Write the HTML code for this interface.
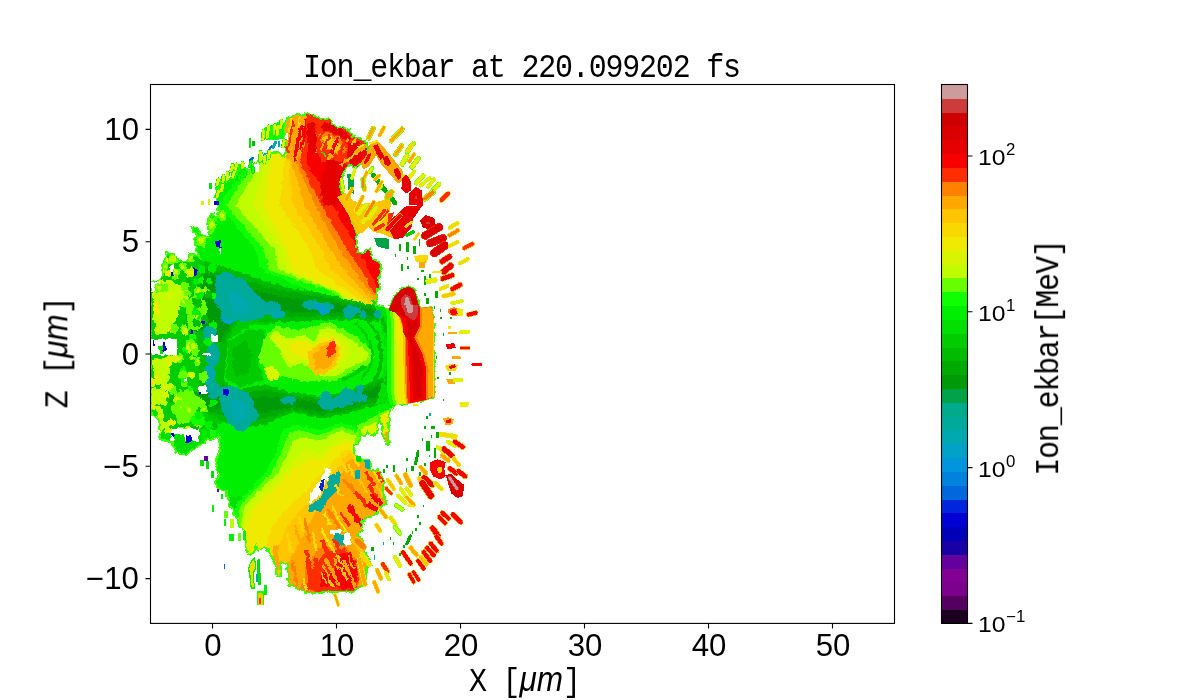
<!DOCTYPE html>
<html><head><meta charset="utf-8"><title>Ion_ekbar</title><style>
html,body{margin:0;padding:0;background:#fff;}
body{width:1200px;height:700px;position:relative;overflow:hidden;font-family:"Liberation Sans",sans-serif;color:#000;}
.t{position:absolute;white-space:nowrap;line-height:1;will-change:transform;}
.mono{font-family:"Liberation Mono",monospace;font-size:30px;letter-spacing:-1.2px;}
.sans{font-family:"Liberation Sans",sans-serif;letter-spacing:0;}
.xt{font-size:30.6px;transform:translateX(-50%) scaleX(1.02);transform-origin:50% 50%;}
.yt{font-size:30.6px;right:1061px;transform:translateY(-50%) scaleX(1.02);transform-origin:100% 50%;}
.ct{font-size:22.9px;left:977.5px;transform:translateY(-50%) scaleX(1.08);transform-origin:0 50%;}
.ct sup{font-size:15.6px;vertical-align:baseline;position:relative;top:-9.6px;margin-left:0.5px;line-height:0;}
#title{transform:scaleY(1.11);transform-origin:0 78%;}
#xlabel{transform:scaleY(1.11);transform-origin:0 78%;}
#ylabel,#clabel{transform:translate(-50%,-50%) rotate(-90deg) scaleY(1.11);transform-origin:50% 50%;}
i.sans{font-size:31.5px;}
</style></head>
<body>
<svg width="1200" height="700" viewBox="0 0 1200 700" style="position:absolute;left:0;top:0">
<g id="plot" shape-rendering="crispEdges">
<defs><clipPath id="bodyclip"><path clip-rule="evenodd" d="M150.0,282.1 L161.4,279.3 L162.9,265.0 L167.1,252.1 L172.9,253.6 L178.6,260.7 L187.1,260.7 L188.6,253.6 L192.9,253.6 L200.0,257.9 L195.7,247.9 L194.3,239.3 L198.6,235.0 L192.9,232.1 L191.4,226.4 L195.7,227.9 L205.7,237.9 L210.0,237.9 L207.1,223.6 L208.6,216.4 L212.9,213.6 L217.1,219.3 L218.6,210.7 L217.1,205.0 L215.0,196.4 L218.6,189.3 L223.6,182.9 L230.0,179.3 L235.7,175.7 L239.3,170.0 L245.4,168.1 L248.6,172.1 L252.1,165.7 L257.1,161.4 L262.6,156.4 L266.0,158.1 L269.7,152.9 L278.6,153.3 L285.0,157.1 L285.4,147.9 L284.3,133.6 L285.0,123.6 L287.1,118.1 L298.6,114.3 L310.0,114.3 L320.0,117.9 L320.0,118.6 L328.6,119.3 L335.7,126.4 L347.1,128.6 L352.9,135.7 L361.4,138.6 L367.1,143.6 L368.6,152.1 L362.9,162.1 L355.7,167.9 L348.6,165.0 L344.3,172.1 L340.0,185.0 L343.6,205.0 L346.4,205.0 L352.1,222.1 L357.4,233.6 L356.9,245.0 L358.3,252.1 L362.9,253.6 L370.0,247.9 L372.9,259.3 L380.0,262.1 L381.4,269.3 L378.6,279.3 L380.0,287.9 L377.1,290.7 L376.4,305.0 L380.0,305.0 L388.6,310.7 L390.0,306.4 L394.3,296.4 L401.4,289.3 L408.6,286.4 L414.3,289.3 L417.1,297.9 L418.6,305.0 L420.0,307.9 L431.4,307.1 L433.6,319.3 L434.3,396.4 L425.7,400.0 L408.6,403.6 L397.1,404.3 L397.1,405.0 L389.3,409.3 L388.6,443.6 L385.7,444.3 L382.9,433.6 L379.3,412.1 L377.1,432.9 L372.1,435.7 L367.9,431.4 L364.3,437.1 L360.0,431.4 L358.6,443.6 L354.3,445.0 L353.6,453.6 L355.7,456.4 L361.4,456.4 L361.4,462.1 L364.3,460.0 L370.0,460.0 L370.0,469.3 L380.0,470.7 L384.3,479.3 L382.9,490.7 L387.1,505.0 L382.9,505.0 L377.1,513.6 L365.7,517.9 L361.4,523.6 L362.9,530.7 L357.1,535.0 L364.3,540.7 L365.7,553.6 L371.4,565.0 L367.1,566.4 L365.7,585.0 L355.7,589.3 L354.3,592.1 L320.0,592.1 L311.4,593.6 L301.4,590.7 L292.9,586.4 L288.6,585.0 L287.1,565.0 L281.4,562.1 L280.7,576.4 L277.1,576.4 L275.7,566.4 L272.9,559.3 L268.6,550.7 L264.3,546.4 L258.6,552.1 L255.7,545.0 L254.3,552.1 L248.6,555.0 L245.7,547.9 L244.3,530.7 L238.6,525.0 L235.7,516.4 L230.0,505.0 L225.7,490.7 L218.6,489.3 L215.7,482.1 L218.6,473.6 L215.7,465.0 L217.1,459.3 L220.0,447.9 L218.6,436.4 L212.9,439.3 L207.1,439.3 L202.9,443.6 L197.1,446.4 L185.7,456.4 L175.7,452.1 L171.4,442.1 L160.0,439.3 L158.6,419.3 L151.4,413.6 L150.0,405.0Z"/></clipPath><clipPath id="axclip"><rect x="151" y="85" width="743" height="538"/></clipPath><filter id="jag" x="140" y="95" width="360" height="530" filterUnits="userSpaceOnUse" color-interpolation-filters="sRGB"><feTurbulence type="fractalNoise" baseFrequency="0.22" numOctaves="2" seed="7" result="n"/><feDisplacementMap in="SourceGraphic" in2="n" scale="5" xChannelSelector="R" yChannelSelector="G"/></filter></defs>
<g clip-path="url(#axclip)"><g filter="url(#jag)"><g clip-path="url(#bodyclip)">
<polygon fill="#00df00" points="150.0,100.0 500.0,100.0 500.0,620.0 150.0,620.0"/>
<polygon fill="#00ef00" points="150.0,100.0 521.4,100.0 521.4,300.0 150.0,300.0"/>
<polygon fill="#0fff00" points="238.6,85.7 235.7,125.1 250.0,162.0 218.6,204.9 255.7,250.0 261.4,270.0 310.0,290.9 350.0,317.1 521.4,317.1 521.4,85.7"/>
<polygon fill="#67ff00" points="247.1,85.7 244.3,125.1 255.7,162.0 226.0,204.9 264.3,250.0 268.6,270.0 331.1,290.9 367.1,317.1 521.4,317.1 521.4,85.7"/>
<polygon fill="#c0fd00" points="255.7,85.7 252.9,125.1 261.4,162.0 235.7,204.9 274.3,250.0 278.6,270.0 334.3,290.9 371.4,317.1 521.4,317.1 521.4,85.7"/>
<polygon fill="#d8f500" points="264.3,85.7 261.4,125.1 265.7,162.0 252.9,204.9 281.4,250.0 287.1,270.0 336.3,290.9 374.3,317.1 521.4,317.1 521.4,85.7"/>
<polygon fill="#f0ea00" points="272.9,85.7 270.0,125.1 271.1,162.0 264.3,204.9 287.1,250.0 292.9,270.0 338.6,290.9 377.1,317.1 521.4,317.1 521.4,85.7"/>
<polygon fill="#f9d700" points="281.4,85.7 278.6,125.1 284.3,162.0 280.0,204.9 310.0,250.0 317.1,270.0 348.0,290.9 384.3,317.1 521.4,317.1 521.4,85.7"/>
<polygon fill="#ffc500" points="287.1,85.7 284.3,125.1 288.6,162.0 292.9,204.9 321.4,250.0 331.4,270.0 355.7,290.9 390.0,317.1 521.4,317.1 521.4,85.7"/>
<polygon fill="#ffa900" points="292.9,85.7 290.0,125.1 291.4,162.0 304.3,204.9 330.6,250.0 344.3,270.0 362.9,290.9 395.7,317.1 521.4,317.1 521.4,85.7"/>
<polygon fill="#ff8100" points="301.4,85.7 298.6,125.1 295.7,162.0 314.9,204.9 340.0,250.0 354.3,270.0 368.6,290.9 400.0,317.1 521.4,317.1 521.4,85.7"/>
<polygon fill="#ff2d00" points="308.6,85.7 305.7,125.1 300.0,162.0 321.4,204.9 347.1,250.0 361.4,270.0 372.9,290.9 404.3,317.1 521.4,317.1 521.4,85.7"/>
<polygon fill="#f90000" points="314.3,85.7 311.4,125.1 305.7,162.0 332.9,204.9 358.0,250.0 368.6,270.0 378.6,290.9 407.1,317.1 521.4,317.1 521.4,85.7"/>
<polygon fill="#00df00" points="150.0,395.0 500.0,395.0 500.0,620.0 150.0,620.0"/>
<polygon fill="#00ef00" points="215.0,420.0 400.0,400.0 400.0,470.0 215.0,500.0"/>
<polygon fill="#0fff00" points="285.0,615.0 270.0,574.0 241.0,560.0 233.0,526.0 236.0,505.0 243.0,497.0 266.0,472.0 275.0,455.0 279.0,440.0 282.0,430.0 295.0,425.0 320.0,430.0 341.0,423.0 356.0,428.0 430.0,428.0 430.0,640.0 285.0,640.0"/>
<polygon fill="#67ff00" points="287.0,615.0 272.0,574.0 243.0,560.0 236.0,526.0 240.0,505.0 248.0,497.0 272.0,472.0 281.0,455.0 285.0,442.0 288.0,434.0 298.0,430.0 320.0,435.0 341.0,427.0 356.0,432.0 430.0,432.0 430.0,640.0 287.0,640.0"/>
<polygon fill="#c0fd00" points="289.0,615.0 274.0,574.0 244.0,560.0 240.0,526.0 245.0,505.0 253.0,497.0 278.0,472.0 287.0,456.0 291.0,446.0 296.0,438.0 320.0,440.0 341.0,431.0 356.0,436.0 430.0,436.0 430.0,640.0 289.0,640.0"/>
<polygon fill="#d8f500" points="290.0,615.0 275.0,574.0 246.0,560.0 243.0,526.0 251.0,505.0 260.0,497.0 284.0,472.0 296.0,458.0 304.0,450.0 320.0,452.0 335.0,442.0 345.0,438.0 356.0,442.0 430.0,442.0 430.0,640.0 290.0,640.0"/>
<polygon fill="#f0ea00" points="291.0,615.0 276.0,574.0 248.0,560.0 246.0,526.0 256.0,505.0 266.0,497.0 292.0,471.0 310.0,458.0 322.0,460.0 336.0,446.0 346.0,442.0 356.0,447.0 430.0,447.0 430.0,640.0 291.0,640.0"/>
<polygon fill="#f9d700" points="292.0,615.0 277.0,574.0 262.0,560.0 272.0,526.0 290.0,505.0 300.0,497.0 318.0,476.0 330.0,466.0 338.0,456.0 347.0,449.0 356.0,452.0 430.0,452.0 430.0,640.0 292.0,640.0"/>
<polygon fill="#ffc500" points="293.0,615.0 278.0,574.0 272.0,560.0 288.0,526.0 305.0,505.0 316.0,497.0 330.0,478.0 337.0,468.0 342.0,459.0 349.0,453.0 356.0,456.0 430.0,456.0 430.0,640.0 293.0,640.0"/>
<polygon fill="#ffa900" points="294.0,615.0 280.0,574.0 290.0,560.0 308.0,526.0 320.0,505.0 328.0,497.0 338.0,482.0 343.0,472.0 346.0,463.0 352.0,458.0 356.0,461.0 430.0,461.0 430.0,640.0 294.0,640.0"/>
<polygon fill="#ff8100" points="318.0,548.0 345.0,545.0 356.0,560.0 360.0,580.0 356.0,592.0 320.0,596.0 300.0,590.0 305.0,570.0"/>
<polygon fill="#ff2d00" points="325.0,552.0 345.0,548.0 356.0,562.0 359.0,580.0 354.0,591.0 322.0,594.0 306.0,588.0 310.0,572.0"/>
<polygon fill="#f90000" points="338.6,554.0 350.0,552.0 355.7,565.0 357.0,579.0 354.0,588.0 345.7,589.0 331.0,586.0 320.0,588.0 318.0,578.0 324.0,570.0 328.6,576.0 334.0,569.0"/>
<polygon fill="#00cc00" points="150.0,255.0 190.0,255.0 205.0,262.0 240.0,272.0 262.0,280.0 290.0,288.0 320.0,293.0 350.0,300.0 380.0,307.0 392.0,310.0 392.0,401.0 378.6,404.0 350.0,413.0 321.0,418.6 293.0,412.0 264.0,425.0 236.0,428.0 224.0,422.0 205.0,430.0 150.0,430.0"/>
<polygon fill="#00bc00" points="205.0,262.0 240.0,272.0 262.0,280.0 290.0,288.0 320.0,293.0 350.0,300.0 380.0,307.0 392.0,310.0 392.0,325.0 380.0,322.0 350.0,320.0 320.0,320.0 290.0,322.0 262.0,322.0 240.0,318.0 228.0,340.0 224.0,380.0 224.0,380.0 236.0,390.0 264.0,384.0 293.0,393.0 321.0,396.0 350.0,390.0 378.6,378.6 392.0,373.0 392.0,401.0 378.6,404.0 350.0,413.0 321.0,418.6 293.0,412.0 264.0,425.0 236.0,428.0 224.0,422.0 200.0,410.0 185.0,380.0 180.0,340.0 190.0,300.0"/>
<polygon fill="#00aa00" points="205.0,267.3 240.0,278.4 262.0,285.9 290.0,292.8 320.0,296.8 350.0,302.8 380.0,309.1 392.0,312.1 392.0,322.9 380.0,319.9 350.0,317.2 320.0,316.2 290.0,317.2 262.0,316.1 240.0,311.6 224.6,340.0 220.6,380.0 224.0,385.9 236.0,395.3 264.0,389.7 293.0,395.7 321.0,399.2 350.0,393.2 378.6,382.2 392.0,376.9 392.0,397.1 378.6,400.4 350.0,409.8 321.0,415.4 293.0,409.3 264.0,419.3 236.0,422.7 224.0,416.1 202.5,408.7 189.2,380.0 184.2,340.0 194.2,300.0"/>
<polygon fill="#009a08" points="205.0,273.4 240.0,285.8 262.0,292.6 290.0,298.2 320.0,301.1 350.0,306.0 380.0,311.5 392.0,314.5 392.0,320.5 380.0,317.5 350.0,314.0 320.0,311.9 290.0,311.8 262.0,309.4 240.0,304.2 220.8,340.0 216.8,380.0 224.0,392.6 236.0,401.4 264.0,396.3 293.0,398.7 321.0,402.8 350.0,396.9 378.6,386.2 392.0,381.4 392.0,392.6 378.6,396.4 350.0,406.1 321.0,411.8 293.0,406.3 264.0,412.7 236.0,416.6 224.0,409.4 205.4,407.3 194.0,380.0 189.0,340.0 199.0,300.0"/>
<polygon fill="#00ef00" points="228.0,340.0 250.0,326.0 280.0,322.0 320.0,320.0 350.0,320.0 385.0,322.0 392.0,325.0 392.0,373.0 378.0,379.0 350.0,390.0 321.0,396.0 293.0,393.0 264.0,384.0 236.0,390.0 224.0,380.0"/>
<polygon fill="#67ff00" points="262.0,345.0 280.0,334.0 320.0,330.0 345.0,338.0 350.0,365.0 335.0,376.0 310.0,382.0 293.0,380.0 270.0,372.0 258.0,362.0"/>
<polygon fill="#00df00" points="372.0,300.0 392.0,306.0 392.0,401.0 376.0,404.0 383.0,380.0 386.0,350.0 381.0,325.0"/>
<polygon fill="#67ff00" points="262.0,340.0 275.0,326.0 300.0,330.0 330.0,322.0 352.0,334.0 368.0,346.0 375.0,357.0 366.0,366.0 350.0,373.0 336.0,381.0 318.0,381.0 300.0,369.0 290.0,374.0 278.0,366.0 272.0,354.0"/>
<polygon fill="#c0fd00" points="268.6,336.4 275.7,330.0 284.3,337.0 293.0,338.0 304.0,335.0 314.0,342.0 320.0,329.0 328.6,326.4 348.6,338.0 363.0,348.0 370.0,356.4 363.0,362.0 348.6,368.0 334.0,376.4 320.0,376.4 311.4,366.4 300.0,363.6 290.0,368.0 283.0,359.0 278.6,348.0"/>
<polygon fill="#d8f500" points="272.0,340.0 276.0,334.0 284.0,340.0 293.0,341.0 304.0,338.0 314.0,345.0 322.0,334.0 330.0,332.0 345.0,342.0 350.0,352.0 345.0,362.0 334.0,372.0 320.0,373.0 312.0,363.0 300.0,360.0 291.0,364.0 286.0,357.0 281.0,348.0"/>
<polygon fill="#f0ea00" points="290.0,344.0 304.0,341.0 314.0,348.0 322.0,338.0 332.0,338.0 342.0,348.0 340.0,360.0 330.0,368.0 320.0,369.0 313.0,360.0 300.0,357.0 292.0,352.0"/>
<polygon fill="#d8f500" points="264.0,368.0 272.0,366.0 279.0,372.0 278.0,380.0 268.0,381.0"/>
<polygon fill="#ffc500" points="308.0,353.0 320.0,343.0 334.0,339.0 340.0,350.0 337.0,363.0 328.0,372.0 316.0,375.0 309.0,368.0"/>
<polygon fill="#ffa900" points="313.0,356.0 322.0,346.0 334.0,342.0 337.0,352.0 333.0,364.0 324.0,370.0 315.0,369.0"/>
<polygon fill="#ff2d00" points="326.0,352.0 330.0,343.0 336.0,342.0 335.0,352.0 329.0,359.0"/>
<ellipse cx="226.0" cy="278.0" rx="9.0" ry="6.0" fill="#00aa9b"/>
<ellipse cx="238.0" cy="285.0" rx="10.0" ry="7.0" fill="#00aa9b"/>
<ellipse cx="246.0" cy="291.0" rx="7.0" ry="5.0" fill="#00a8af"/>
<ellipse cx="255.0" cy="303.0" rx="10.0" ry="6.0" fill="#00aa9b"/>
<ellipse cx="268.0" cy="308.0" rx="12.0" ry="7.0" fill="#00aa9b"/>
<ellipse cx="278.0" cy="314.0" rx="7.0" ry="5.0" fill="#00a8af"/>
<ellipse cx="228.0" cy="316.0" rx="7.0" ry="9.0" fill="#00a0c7"/>
<ellipse cx="312.0" cy="305.0" rx="9.0" ry="5.0" fill="#00aa9b"/>
<ellipse cx="325.0" cy="307.0" rx="8.0" ry="5.0" fill="#00aa9b"/>
<ellipse cx="318.0" cy="306.0" rx="4.0" ry="3.0" fill="#00a0c7"/>
<ellipse cx="352.0" cy="310.0" rx="8.0" ry="5.0" fill="#00aa9b"/>
<ellipse cx="378.0" cy="313.0" rx="3.0" ry="4.0" fill="#00aa9b"/>
<ellipse cx="210.0" cy="335.0" rx="7.0" ry="10.0" fill="#00aa9b"/>
<ellipse cx="213.0" cy="355.0" rx="7.0" ry="12.0" fill="#00aa9b"/>
<ellipse cx="209.0" cy="375.0" rx="6.0" ry="10.0" fill="#00a8af"/>
<ellipse cx="214.0" cy="390.0" rx="8.0" ry="8.0" fill="#00aa9b"/>
<ellipse cx="232.0" cy="395.0" rx="9.0" ry="9.0" fill="#00aa9b"/>
<ellipse cx="243.0" cy="405.0" rx="11.0" ry="11.0" fill="#00aa9b"/>
<ellipse cx="250.0" cy="415.0" rx="8.0" ry="7.0" fill="#00a8af"/>
<ellipse cx="328.0" cy="403.0" rx="10.0" ry="6.0" fill="#00aa9b"/>
<ellipse cx="343.0" cy="401.0" rx="11.0" ry="6.0" fill="#00aa9b"/>
<ellipse cx="358.0" cy="398.0" rx="9.0" ry="5.0" fill="#00aa9b"/>
<ellipse cx="288.0" cy="400.0" rx="8.0" ry="4.0" fill="#00aa9b"/>
<ellipse cx="225.0" cy="282.0" rx="8.0" ry="7.0" fill="#00aa9b"/>
<ellipse cx="236.0" cy="292.0" rx="10.0" ry="8.0" fill="#00aa9b"/>
<ellipse cx="248.0" cy="298.0" rx="8.0" ry="7.0" fill="#00aa9b"/>
<ellipse cx="237.0" cy="412.0" rx="10.0" ry="9.0" fill="#00aa9b"/>
<ellipse cx="240.0" cy="425.0" rx="7.0" ry="6.0" fill="#00a8af"/>
<ellipse cx="324.0" cy="311.0" rx="5.0" ry="4.0" fill="#00a0c7"/>
<ellipse cx="348.0" cy="313.0" rx="5.0" ry="6.0" fill="#00aa9b"/>
<ellipse cx="363.0" cy="314.0" rx="3.0" ry="4.0" fill="#00aa9b"/>
<ellipse cx="377.0" cy="314.0" rx="3.0" ry="4.0" fill="#00aa9b"/>
<ellipse cx="326.0" cy="398.0" rx="6.0" ry="6.0" fill="#00aa9b"/>
<ellipse cx="348.0" cy="396.0" rx="8.0" ry="8.0" fill="#00aa9b"/>
<ellipse cx="360.0" cy="389.0" rx="3.0" ry="5.0" fill="#00aa9b"/>
<ellipse cx="328.0" cy="407.0" rx="8.0" ry="3.0" fill="#00aa9b"/>
<polygon fill="#c0fd00" points="153.0,285.0 170.0,279.0 181.0,290.0 178.0,315.0 170.0,333.0 155.0,335.0"/>
<polygon fill="#c0fd00" points="164.0,285.0 186.0,283.0 190.0,300.0 180.0,306.0 166.0,305.0"/>
<polygon fill="#c0fd00" points="152.9,359.3 167.1,357.9 170.0,370.7 167.1,385.0 154.3,385.0"/>
<polygon fill="#c0fd00" points="150.0,387.9 164.3,389.3 167.1,405.0 150.0,405.0"/>
<polygon fill="#c0fd00" points="151.4,406.4 162.9,407.9 164.3,422.1 161.4,433.6 152.9,432.1"/>
<polygon fill="#67ff00" points="185.0,300.0 200.0,292.0 208.0,310.0 200.0,330.0 188.0,330.0"/>
<polygon fill="#67ff00" points="172.0,395.0 190.0,388.0 200.0,400.0 195.0,420.0 178.0,425.0"/>
<polygon fill="#00bc00" points="172.0,335.0 200.0,330.0 225.0,345.0 222.0,385.0 200.0,392.0 175.0,388.0"/>
<polygon fill="#00cc00" points="172.0,335.0 196.0,331.0 200.0,392.0 175.0,388.0"/>
<polygon fill="#ffa900" points="284.3,117.9 298.6,113.6 310.0,113.6 307.1,123.6 304.3,147.9 297.1,162.1 287.1,159.3 285.7,133.6"/>
<line x1="287.1" y1="152.1" x2="292.9" y2="122.1" stroke="#ff2d00" stroke-width="3.0" stroke-linecap="round"/>
<line x1="294.3" y1="159.3" x2="301.4" y2="126.4" stroke="#f90000" stroke-width="3.5" stroke-linecap="round"/>
<line x1="301.4" y1="147.9" x2="307.1" y2="120.7" stroke="#f90000" stroke-width="3.5" stroke-linecap="round"/>
<line x1="289.3" y1="130.7" x2="291.4" y2="119.3" stroke="#f9d700" stroke-width="2.0" stroke-linecap="round"/>
<line x1="297.9" y1="125.0" x2="300.0" y2="116.4" stroke="#f9d700" stroke-width="2.0" stroke-linecap="round"/>
<line x1="311.4" y1="140.7" x2="315.7" y2="129.3" stroke="#ffa900" stroke-width="2.5" stroke-linecap="round"/>
<line x1="317.1" y1="152.1" x2="320.0" y2="143.6" stroke="#ffa900" stroke-width="2.5" stroke-linecap="round"/>
<polygon fill="#ff2d00" points="305.7,113.6 330.0,117.9 348.6,129.3 367.1,140.7 365.7,147.9 360.0,153.6 348.6,165.0 337.1,162.1 322.9,162.1 315.7,147.9 305.7,133.6"/>
<polygon fill="#ff8100" points="317.1,133.6 327.1,132.1 340.0,137.9 347.1,147.9 342.9,155.0 331.4,152.1 322.9,147.9"/>
<polygon fill="#ffc500" points="321.4,137.9 328.6,135.7 337.1,140.7 341.4,147.9 337.1,152.1 328.6,149.3"/>
<polygon fill="#e60000" points="307.1,123.6 314.3,122.1 317.1,133.6 315.7,152.1 310.0,153.6 307.1,140.7"/>
<polygon fill="#e60000" points="321.4,123.6 331.4,122.1 342.9,129.3 351.4,137.9 348.6,142.1 340.0,136.4 328.6,130.7 321.4,129.3"/>
<polygon fill="#e60000" points="348.6,142.1 357.1,140.7 362.9,147.9 360.0,159.3 351.4,165.0 347.1,156.4"/>
<polygon fill="#f90000" points="322.1,142.9 326.4,142.1 327.1,147.9 322.9,147.9"/>
<polygon fill="#e60000" points="327.1,159.3 345.7,162.1 341.4,179.3 337.1,205.0 322.9,205.0 320.0,185.0"/>
<line x1="322.1" y1="147.9" x2="325.7" y2="142.1" stroke="#ffa900" stroke-width="3.5" stroke-linecap="round"/>
<line x1="327.9" y1="142.1" x2="330.7" y2="137.1" stroke="#f9d700" stroke-width="2.5" stroke-linecap="round"/>
<line x1="333.6" y1="152.1" x2="340.0" y2="146.4" stroke="#ffc500" stroke-width="3.0" stroke-linecap="round"/>
<line x1="335.7" y1="142.1" x2="339.3" y2="137.9" stroke="#ffa900" stroke-width="2.0" stroke-linecap="round"/>
<line x1="355.7" y1="152.1" x2="365.7" y2="146.4" stroke="#ffa900" stroke-width="4.0" stroke-linecap="round"/>
<line x1="348.6" y1="159.3" x2="356.4" y2="152.9" stroke="#ffc500" stroke-width="3.0" stroke-linecap="round"/>
<line x1="341.4" y1="165.0" x2="345.7" y2="159.3" stroke="#ffa900" stroke-width="2.5" stroke-linecap="round"/>
<line x1="328.6" y1="159.3" x2="332.1" y2="153.6" stroke="#ffa900" stroke-width="2.5" stroke-linecap="round"/>
<line x1="358.6" y1="147.9" x2="362.9" y2="145.0" stroke="#f0ea00" stroke-width="2.0" stroke-linecap="round"/>
<line x1="322.9" y1="152.1" x2="325.0" y2="155.0" stroke="#0fff00" stroke-width="2.0" stroke-linecap="round"/>
<line x1="341.4" y1="147.9" x2="347.1" y2="140.7" stroke="#ffa900" stroke-width="2.5" stroke-linecap="round"/>
<line x1="351.4" y1="143.6" x2="355.7" y2="139.3" stroke="#ffc500" stroke-width="2.0" stroke-linecap="round"/>
<polyline fill="none" stroke="#00bc00" stroke-width="3.5" points="367.1,319.3 377.1,333.6 381.4,352.1 380.0,369.3 372.9,385.0"/>
<polyline fill="none" stroke="#00cc00" stroke-width="2.5" points="355.7,322.1 367.1,336.4 372.9,353.6 370.0,367.9 361.4,379.3"/>
<polyline fill="none" stroke="#00bc00" stroke-width="3.5" points="381.4,317.9 388.6,336.4 390.0,362.1 385.7,385.0"/>
<polyline fill="none" stroke="#00cc00" stroke-width="3.0" points="341.4,380.7 355.7,373.6 365.7,365.0"/>
<ellipse cx="210.0" cy="335.0" rx="7.0" ry="10.0" fill="#00aa9b"/>
<ellipse cx="213.0" cy="355.0" rx="7.0" ry="12.0" fill="#00aa9b"/>
<ellipse cx="209.0" cy="375.0" rx="6.0" ry="10.0" fill="#00a8af"/>
<ellipse cx="214.0" cy="390.0" rx="8.0" ry="8.0" fill="#00aa9b"/>
<ellipse cx="228.0" cy="398.0" rx="9.0" ry="8.0" fill="#00aa9b"/>
<polygon fill="#00aa9b" points="216.0,274.0 240.0,284.0 262.0,298.0 264.0,318.0 240.0,322.0 224.0,318.0 214.0,300.0"/>
<polygon fill="#00a8af" points="228.0,290.0 246.0,298.0 250.0,312.0 234.0,314.0"/>
<polygon fill="#00aa9b" points="222.0,386.0 248.0,392.0 258.0,416.0 244.0,432.0 228.0,424.0 220.0,405.0"/>
<polygon fill="#00a8af" points="230.0,398.0 246.0,404.0 246.0,420.0 234.0,420.0"/>
<polygon fill="#00cc00" points="228.0,342.0 248.0,330.0 266.0,330.0 262.0,345.0 258.0,362.0 264.0,380.0 240.0,388.0 226.0,378.0"/>
<polygon fill="#00bc00" points="232.0,350.0 246.0,340.0 252.0,356.0 248.0,374.0 234.0,376.0"/>
<ellipse cx="180.0" cy="357.6" rx="3.8" ry="4.3" fill="#67ff00"/>
<ellipse cx="180.0" cy="357.6" rx="1.9" ry="2.1" fill="#c0fd00"/>
<ellipse cx="183.7" cy="370.1" rx="3.3" ry="2.8" fill="#0fff00"/>
<ellipse cx="212.9" cy="429.7" rx="2.9" ry="2.5" fill="#00ef00"/>
<ellipse cx="184.8" cy="268.6" rx="2.6" ry="3.9" fill="#67ff00"/>
<ellipse cx="184.8" cy="268.6" rx="1.3" ry="1.9" fill="#c0fd00"/>
<ellipse cx="183.0" cy="375.9" rx="5.0" ry="5.5" fill="#67ff00"/>
<ellipse cx="195.9" cy="314.1" rx="2.7" ry="4.8" fill="#0fff00"/>
<ellipse cx="176.8" cy="408.7" rx="4.6" ry="2.5" fill="#d8f500"/>
<ellipse cx="176.8" cy="408.7" rx="2.3" ry="1.3" fill="#f0ea00"/>
<ellipse cx="208.4" cy="341.7" rx="4.1" ry="4.8" fill="#00ef00"/>
<ellipse cx="168.7" cy="273.5" rx="4.4" ry="2.9" fill="#d8f500"/>
<ellipse cx="168.7" cy="273.5" rx="2.2" ry="1.4" fill="#f0ea00"/>
<ellipse cx="158.3" cy="268.7" rx="3.9" ry="3.8" fill="#c0fd00"/>
<ellipse cx="158.3" cy="268.7" rx="1.9" ry="1.9" fill="#d8f500"/>
<ellipse cx="197.4" cy="281.3" rx="3.6" ry="3.1" fill="#00ef00"/>
<ellipse cx="168.7" cy="430.8" rx="4.7" ry="3.1" fill="#c0fd00"/>
<ellipse cx="168.7" cy="430.8" rx="2.4" ry="1.6" fill="#d8f500"/>
<ellipse cx="213.3" cy="296.0" rx="3.3" ry="3.4" fill="#0fff00"/>
<ellipse cx="156.6" cy="274.0" rx="4.0" ry="3.6" fill="#d8f500"/>
<ellipse cx="156.6" cy="274.0" rx="2.0" ry="1.8" fill="#f0ea00"/>
<ellipse cx="205.7" cy="290.5" rx="4.5" ry="3.2" fill="#67ff00"/>
<ellipse cx="205.7" cy="290.5" rx="2.3" ry="1.6" fill="#c0fd00"/>
<ellipse cx="197.8" cy="425.4" rx="4.7" ry="4.3" fill="#67ff00"/>
<ellipse cx="197.8" cy="425.4" rx="2.4" ry="2.2" fill="#c0fd00"/>
<ellipse cx="158.4" cy="264.9" rx="4.3" ry="3.3" fill="#c0fd00"/>
<ellipse cx="189.0" cy="310.2" rx="2.7" ry="3.2" fill="#67ff00"/>
<ellipse cx="208.9" cy="294.3" rx="3.2" ry="3.8" fill="#00bc00"/>
<ellipse cx="155.7" cy="289.4" rx="2.8" ry="3.6" fill="#d8f500"/>
<ellipse cx="188.2" cy="283.0" rx="2.5" ry="5.2" fill="#00bc00"/>
<ellipse cx="195.5" cy="429.4" rx="4.1" ry="3.9" fill="#00bc00"/>
<ellipse cx="197.3" cy="314.8" rx="3.9" ry="4.7" fill="#00ef00"/>
<ellipse cx="201.2" cy="420.9" rx="4.8" ry="5.1" fill="#0fff00"/>
<ellipse cx="177.9" cy="398.7" rx="4.1" ry="3.6" fill="#c0fd00"/>
<ellipse cx="189.7" cy="272.3" rx="4.7" ry="4.7" fill="#c0fd00"/>
<ellipse cx="189.7" cy="272.3" rx="2.3" ry="2.3" fill="#d8f500"/>
<ellipse cx="197.6" cy="361.4" rx="2.7" ry="4.8" fill="#67ff00"/>
<ellipse cx="197.6" cy="361.4" rx="1.4" ry="2.4" fill="#c0fd00"/>
<ellipse cx="189.3" cy="343.6" rx="3.7" ry="4.3" fill="#67ff00"/>
<ellipse cx="167.9" cy="260.0" rx="3.0" ry="3.0" fill="#d8f500"/>
<ellipse cx="192.9" cy="336.7" rx="4.2" ry="3.1" fill="#0fff00"/>
<ellipse cx="178.7" cy="401.5" rx="3.5" ry="4.2" fill="#c0fd00"/>
<ellipse cx="178.7" cy="401.5" rx="1.7" ry="2.1" fill="#d8f500"/>
<ellipse cx="203.9" cy="409.1" rx="3.2" ry="3.0" fill="#67ff00"/>
<ellipse cx="203.9" cy="409.1" rx="1.6" ry="1.5" fill="#c0fd00"/>
<ellipse cx="169.1" cy="296.1" rx="3.7" ry="3.4" fill="#d8f500"/>
<ellipse cx="154.0" cy="413.4" rx="4.3" ry="4.2" fill="#00df00"/>
<ellipse cx="171.2" cy="398.9" rx="2.8" ry="3.9" fill="#00bc00"/>
<ellipse cx="153.5" cy="405.7" rx="2.6" ry="4.4" fill="#d8f500"/>
<ellipse cx="153.5" cy="405.7" rx="1.3" ry="2.2" fill="#f0ea00"/>
<ellipse cx="191.1" cy="374.6" rx="4.2" ry="3.1" fill="#c0fd00"/>
<ellipse cx="191.1" cy="374.6" rx="2.1" ry="1.5" fill="#d8f500"/>
<ellipse cx="163.1" cy="259.9" rx="2.9" ry="3.3" fill="#d8f500"/>
<ellipse cx="163.1" cy="259.9" rx="1.5" ry="1.7" fill="#f0ea00"/>
<ellipse cx="195.2" cy="350.6" rx="3.5" ry="4.9" fill="#67ff00"/>
<ellipse cx="157.4" cy="424.0" rx="3.6" ry="4.4" fill="#c0fd00"/>
<ellipse cx="175.4" cy="359.2" rx="4.9" ry="3.9" fill="#d8f500"/>
<ellipse cx="164.7" cy="386.5" rx="4.3" ry="3.1" fill="#d8f500"/>
<ellipse cx="212.8" cy="432.0" rx="3.3" ry="5.2" fill="#0fff00"/>
<ellipse cx="205.1" cy="320.0" rx="3.6" ry="4.2" fill="#00bc00"/>
<ellipse cx="202.2" cy="269.4" rx="3.3" ry="4.9" fill="#00ef00"/>
<ellipse cx="160.7" cy="284.5" rx="4.6" ry="4.6" fill="#d8f500"/>
<ellipse cx="182.5" cy="426.9" rx="3.1" ry="4.1" fill="#00bc00"/>
<ellipse cx="170.0" cy="387.7" rx="4.6" ry="4.2" fill="#c0fd00"/>
<ellipse cx="170.0" cy="387.7" rx="2.3" ry="2.1" fill="#d8f500"/>
<ellipse cx="175.6" cy="408.5" rx="4.6" ry="5.4" fill="#67ff00"/>
<ellipse cx="187.5" cy="293.8" rx="4.0" ry="2.6" fill="#67ff00"/>
<ellipse cx="184.0" cy="329.3" rx="3.7" ry="4.6" fill="#67ff00"/>
<ellipse cx="184.0" cy="329.3" rx="1.9" ry="2.3" fill="#c0fd00"/>
<ellipse cx="185.4" cy="331.7" rx="3.2" ry="3.9" fill="#c0fd00"/>
<ellipse cx="185.4" cy="331.7" rx="1.6" ry="2.0" fill="#d8f500"/>
<ellipse cx="178.9" cy="403.2" rx="3.3" ry="3.1" fill="#67ff00"/>
<ellipse cx="209.4" cy="281.0" rx="3.0" ry="3.2" fill="#00ef00"/>
<ellipse cx="194.6" cy="315.3" rx="2.8" ry="4.7" fill="#67ff00"/>
<ellipse cx="194.6" cy="315.3" rx="1.4" ry="2.3" fill="#c0fd00"/>
<ellipse cx="183.6" cy="302.6" rx="3.6" ry="3.6" fill="#67ff00"/>
<ellipse cx="183.6" cy="302.6" rx="1.8" ry="1.8" fill="#c0fd00"/>
<ellipse cx="184.8" cy="286.4" rx="4.1" ry="4.1" fill="#67ff00"/>
<ellipse cx="189.9" cy="410.5" rx="4.5" ry="5.2" fill="#67ff00"/>
<ellipse cx="189.9" cy="410.5" rx="2.3" ry="2.6" fill="#c0fd00"/>
<ellipse cx="171.5" cy="422.3" rx="4.7" ry="2.9" fill="#d8f500"/>
<ellipse cx="171.5" cy="422.3" rx="2.4" ry="1.5" fill="#f0ea00"/>
<ellipse cx="197.0" cy="304.2" rx="4.6" ry="3.8" fill="#00bc00"/>
<ellipse cx="201.0" cy="280.4" rx="2.5" ry="3.1" fill="#0fff00"/>
<ellipse cx="194.3" cy="420.2" rx="3.8" ry="4.8" fill="#0fff00"/>
<ellipse cx="183.2" cy="380.1" rx="2.8" ry="2.6" fill="#0fff00"/>
<ellipse cx="186.2" cy="349.6" rx="3.0" ry="3.1" fill="#0fff00"/>
<ellipse cx="204.1" cy="434.3" rx="2.7" ry="5.4" fill="#00ef00"/>
<ellipse cx="180.6" cy="394.1" rx="3.8" ry="3.8" fill="#67ff00"/>
<ellipse cx="152.8" cy="382.8" rx="3.6" ry="4.7" fill="#d8f500"/>
<ellipse cx="152.8" cy="382.8" rx="1.8" ry="2.4" fill="#f0ea00"/>
<ellipse cx="164.1" cy="287.4" rx="4.7" ry="4.9" fill="#67ff00"/>
<ellipse cx="189.2" cy="347.8" rx="3.1" ry="5.2" fill="#c0fd00"/>
<ellipse cx="200.2" cy="403.0" rx="4.7" ry="4.6" fill="#67ff00"/>
<ellipse cx="156.4" cy="318.8" rx="3.4" ry="4.4" fill="#c0fd00"/>
<ellipse cx="166.4" cy="426.2" rx="4.1" ry="4.2" fill="#c0fd00"/>
<ellipse cx="176.2" cy="436.0" rx="4.4" ry="5.4" fill="#c0fd00"/>
<ellipse cx="176.2" cy="436.0" rx="2.2" ry="2.7" fill="#d8f500"/>
<ellipse cx="190.2" cy="389.5" rx="2.6" ry="3.1" fill="#0fff00"/>
<ellipse cx="175.3" cy="275.5" rx="3.9" ry="4.0" fill="#d8f500"/>
<ellipse cx="187.2" cy="435.1" rx="2.7" ry="4.3" fill="#c0fd00"/>
<ellipse cx="154.8" cy="423.6" rx="2.9" ry="4.0" fill="#d8f500"/>
<ellipse cx="155.6" cy="426.3" rx="4.0" ry="3.6" fill="#d8f500"/>
<ellipse cx="155.6" cy="426.3" rx="2.0" ry="1.8" fill="#f0ea00"/>
<ellipse cx="192.6" cy="357.8" rx="3.2" ry="2.5" fill="#67ff00"/>
<ellipse cx="192.6" cy="357.8" rx="1.6" ry="1.3" fill="#c0fd00"/>
<ellipse cx="154.7" cy="285.9" rx="4.7" ry="4.7" fill="#d8f500"/>
<ellipse cx="154.7" cy="285.9" rx="2.4" ry="2.4" fill="#f0ea00"/>
<ellipse cx="213.3" cy="426.1" rx="4.8" ry="3.8" fill="#00bc00"/>
<ellipse cx="181.6" cy="431.2" rx="4.8" ry="4.7" fill="#67ff00"/>
<ellipse cx="181.6" cy="431.2" rx="2.4" ry="2.3" fill="#c0fd00"/>
<ellipse cx="212.7" cy="403.4" rx="4.1" ry="3.9" fill="#00ef00"/>
<ellipse cx="164.6" cy="267.3" rx="3.6" ry="4.5" fill="#c0fd00"/>
<ellipse cx="164.6" cy="267.3" rx="1.8" ry="2.3" fill="#d8f500"/>
<ellipse cx="168.3" cy="361.6" rx="3.8" ry="5.5" fill="#d8f500"/>
<ellipse cx="197.5" cy="300.4" rx="4.7" ry="4.9" fill="#00bc00"/>
<ellipse cx="190.7" cy="321.9" rx="3.9" ry="4.3" fill="#67ff00"/>
<ellipse cx="198.7" cy="291.8" rx="4.8" ry="5.1" fill="#67ff00"/>
<ellipse cx="198.7" cy="291.8" rx="2.4" ry="2.6" fill="#c0fd00"/>
<ellipse cx="155.8" cy="306.2" rx="2.8" ry="4.1" fill="#f0ea00"/>
<ellipse cx="155.8" cy="306.2" rx="1.4" ry="2.1" fill="#f0ea00"/>
<ellipse cx="157.4" cy="378.4" rx="3.4" ry="3.9" fill="#d8f500"/>
<ellipse cx="157.4" cy="378.4" rx="1.7" ry="2.0" fill="#f0ea00"/>
<ellipse cx="173.3" cy="390.6" rx="2.8" ry="4.9" fill="#67ff00"/>
<ellipse cx="199.7" cy="295.9" rx="4.5" ry="3.6" fill="#00ef00"/>
<ellipse cx="192.5" cy="434.1" rx="4.4" ry="5.3" fill="#67ff00"/>
<ellipse cx="192.5" cy="434.1" rx="2.2" ry="2.6" fill="#c0fd00"/>
<ellipse cx="174.9" cy="275.3" rx="2.7" ry="4.2" fill="#67ff00"/>
<ellipse cx="174.9" cy="275.3" rx="1.4" ry="2.1" fill="#c0fd00"/>
<ellipse cx="194.5" cy="311.2" rx="3.0" ry="4.5" fill="#00ef00"/>
<ellipse cx="157.1" cy="312.1" rx="3.2" ry="2.9" fill="#f0ea00"/>
<ellipse cx="157.1" cy="312.1" rx="1.6" ry="1.5" fill="#f0ea00"/>
<ellipse cx="197.0" cy="323.2" rx="4.3" ry="4.2" fill="#00bc00"/>
<ellipse cx="209.0" cy="425.3" rx="4.5" ry="3.4" fill="#00ef00"/>
<ellipse cx="171.7" cy="329.1" rx="3.1" ry="3.6" fill="#d8f500"/>
<ellipse cx="171.7" cy="329.1" rx="1.6" ry="1.8" fill="#f0ea00"/>
<ellipse cx="174.5" cy="328.4" rx="3.9" ry="4.9" fill="#67ff00"/>
<ellipse cx="199.1" cy="414.8" rx="3.8" ry="4.1" fill="#00ef00"/>
<ellipse cx="187.2" cy="430.0" rx="2.7" ry="4.1" fill="#c0fd00"/>
<ellipse cx="157.2" cy="272.5" rx="2.7" ry="4.4" fill="#f0ea00"/>
<ellipse cx="157.2" cy="272.5" rx="1.4" ry="2.2" fill="#f0ea00"/>
<ellipse cx="165.7" cy="394.2" rx="3.5" ry="3.5" fill="#d8f500"/>
<ellipse cx="193.7" cy="345.9" rx="4.3" ry="5.2" fill="#67ff00"/>
<ellipse cx="193.7" cy="345.9" rx="2.1" ry="2.6" fill="#c0fd00"/>
<ellipse cx="203.2" cy="376.7" rx="4.7" ry="5.4" fill="#67ff00"/>
<ellipse cx="184.5" cy="384.4" rx="3.6" ry="2.9" fill="#67ff00"/>
<ellipse cx="213.4" cy="324.8" rx="3.6" ry="3.4" fill="#00ef00"/>
<ellipse cx="212.1" cy="268.5" rx="4.1" ry="4.8" fill="#00ef00"/>
<ellipse cx="163.1" cy="269.1" rx="4.8" ry="2.6" fill="#d8f500"/>
<ellipse cx="163.1" cy="269.1" rx="2.4" ry="1.3" fill="#f0ea00"/>
<line x1="322.9" y1="150.7" x2="328.6" y2="136.4" stroke="#ff2d00" stroke-width="3.0" stroke-linecap="round"/>
<line x1="331.4" y1="152.9" x2="337.1" y2="139.3" stroke="#f90000" stroke-width="3.0" stroke-linecap="round"/>
<line x1="340.0" y1="154.3" x2="344.3" y2="143.6" stroke="#ff2d00" stroke-width="3.0" stroke-linecap="round"/>
<line x1="318.6" y1="142.1" x2="321.4" y2="133.6" stroke="#ff2d00" stroke-width="2.5" stroke-linecap="round"/>
<polygon fill="#67ff00" points="358.6,425.0 380.0,413.6 389.3,409.3 388.9,443.6 385.7,444.3 382.9,433.6 377.1,432.9 372.1,435.7 367.9,431.4 364.3,437.1 360.0,431.4 358.6,443.6 354.3,445.0"/>
<polygon fill="#d8f500" points="361.4,428.6 378.6,420.7 377.1,432.9 372.1,435.7 367.9,431.4 364.3,437.1 360.7,432.1"/>
<polygon fill="#f0ea00" points="380.7,415.0 388.6,412.1 388.9,443.6 385.7,444.3 382.9,433.6"/>
<polygon fill="#ffa900" points="384.3,433.6 388.3,432.1 388.7,443.6 386.0,444.0"/>
<polygon fill="#ffffff" points="151.4,339.3 177.1,339.3 177.1,355.0 151.4,355.0"/>
<polygon fill="#0000d5" points="162.9,340.7 165.7,340.7 165.7,352.1 162.9,352.1"/>
<polygon fill="#0000d5" points="152.9,340.7 154.6,340.7 154.6,346.4 152.9,346.4"/>
<polygon fill="#00df00" points="158.6,345.0 162.9,345.0 162.9,353.6 158.6,353.6"/>
<polygon fill="#ffffff" points="211.4,335.0 217.9,335.0 217.9,342.1 211.4,342.1"/>
<polygon fill="#ffffff" points="202.9,352.9 211.4,352.9 211.4,356.4 202.9,356.4"/>
<polygon fill="#ffffff" points="199.3,386.4 207.1,386.4 207.1,393.6 199.3,393.6"/>
<polygon fill="#ffffff" points="184.3,378.6 187.9,378.6 187.9,380.7 184.3,380.7"/>
<polygon fill="#0000d5" points="224.3,389.3 227.9,389.3 227.9,396.4 224.3,396.4"/>
<polygon fill="#0000d5" points="202.1,321.4 205.0,321.4 205.0,324.3 202.1,324.3"/>
<polygon fill="#0000d5" points="190.7,330.7 192.9,330.7 192.9,333.6 190.7,333.6"/>
<polygon fill="#0000d5" points="199.3,390.7 201.4,390.7 201.4,395.0 199.3,395.0"/>
<polygon fill="#ffffff" points="150.0,282.1 160.0,282.1 160.0,290.7 150.0,290.7"/>
<polygon fill="#ffffff" points="170.0,265.0 174.3,265.0 174.3,272.1 170.0,272.1"/>
<polygon fill="#0000d5" points="192.9,267.9 197.1,267.9 197.1,276.4 192.9,276.4"/>
<polygon fill="#0000d5" points="215.7,240.7 221.4,240.7 221.4,247.9 215.7,247.9"/>
<polygon fill="#ffffff" points="219.3,247.9 221.1,247.9 221.1,253.6 219.3,253.6"/>
<polygon fill="#0000d5" points="171.4,272.1 174.3,272.1 174.3,276.4 171.4,276.4"/>
<polygon fill="#0000d5" points="214.3,205.0 217.1,205.0 217.1,208.6 214.3,208.6"/>
<polygon fill="#ffffff" points="171.4,429.3 198.6,429.3 198.6,440.7 171.4,440.7"/>
<polygon fill="#00df00" points="174.3,433.6 184.3,433.6 184.3,440.7 174.3,440.7"/>
<polygon fill="#0000d5" points="185.7,435.0 191.4,435.0 191.4,442.1 185.7,442.1"/>
<polygon fill="#0000d5" points="172.1,432.9 175.0,432.9 175.0,435.7 172.1,435.7"/>
<polygon fill="#ffffff" points="278.6,133.6 287.1,133.6 287.1,139.3 278.6,139.3"/>
<polygon fill="#ffffff" points="279.3,147.9 284.3,147.9 284.3,153.6 279.3,153.6"/>
<polygon fill="#ffffff" points="254.3,160.7 258.6,160.7 258.6,172.1 254.3,172.1"/>
<polygon fill="#00aa9b" points="327.5,475.1 341.1,472.4 338.4,488.7 327.5,499.6 322.1,510.4 311.3,511.8 308.5,505.0 319.4,499.6 327.5,486.0"/>
<polygon fill="#ffffff" points="325.9,468.3 331.9,469.2 326.5,481.1 316.7,498.5 309.1,503.1 310.2,493.6 320.5,480.0"/>
<polygon fill="#0025dd" points="320.8,481.1 324.8,479.2 323.5,491.4 319.4,491.4"/>
<polygon fill="#ffffff" points="330.0,529.3 341.4,529.3 341.4,533.6 330.0,533.6"/>
<polygon fill="#00aa9b" points="334.3,533.6 344.3,533.6 344.3,545.0 334.3,545.0"/>
<polygon fill="#ffffff" points="344.3,533.6 351.4,533.6 351.4,545.0 344.3,545.0"/>
<line x1="367.1" y1="473.6" x2="373.6" y2="484.3" stroke="#ff2d00" stroke-width="3.5" stroke-linecap="round"/>
<line x1="377.9" y1="473.6" x2="382.1" y2="481.4" stroke="#ff2d00" stroke-width="3.0" stroke-linecap="round"/>
<line x1="369.3" y1="486.4" x2="376.4" y2="495.7" stroke="#ff2d00" stroke-width="3.5" stroke-linecap="round"/>
<line x1="355.7" y1="492.1" x2="365.7" y2="504.3" stroke="#ff2d00" stroke-width="4.5" stroke-linecap="round"/>
<line x1="371.4" y1="495.0" x2="381.4" y2="504.3" stroke="#f90000" stroke-width="4.5" stroke-linecap="round"/>
<line x1="344.3" y1="480.7" x2="353.6" y2="490.0" stroke="#ff8100" stroke-width="4.0" stroke-linecap="round"/>
<line x1="349.3" y1="507.1" x2="360.7" y2="522.9" stroke="#f90000" stroke-width="6.0" stroke-linecap="round"/>
<line x1="328.6" y1="510.7" x2="338.6" y2="526.4" stroke="#ff8100" stroke-width="3.5" stroke-linecap="round"/>
<line x1="341.4" y1="513.6" x2="348.6" y2="525.0" stroke="#ff2d00" stroke-width="3.0" stroke-linecap="round"/>
<line x1="322.9" y1="540.7" x2="330.0" y2="562.1" stroke="#ff2d00" stroke-width="3.5" stroke-linecap="round"/>
<line x1="334.3" y1="540.7" x2="340.0" y2="552.1" stroke="#ff2d00" stroke-width="3.5" stroke-linecap="round"/>
<line x1="275.7" y1="547.9" x2="277.9" y2="567.9" stroke="#ffa900" stroke-width="5.0" stroke-linecap="round"/>
<line x1="295.7" y1="526.4" x2="301.4" y2="547.9" stroke="#ffa900" stroke-width="3.0" stroke-linecap="round"/>
<line x1="304.3" y1="519.3" x2="310.0" y2="542.1" stroke="#ff8100" stroke-width="3.0" stroke-linecap="round"/>
<line x1="292.9" y1="562.1" x2="297.1" y2="585.0" stroke="#ff8100" stroke-width="3.5" stroke-linecap="round"/>
<line x1="307.1" y1="552.1" x2="311.4" y2="585.0" stroke="#ff2d00" stroke-width="4.5" stroke-linecap="round"/>
<line x1="315.7" y1="559.3" x2="319.3" y2="587.9" stroke="#ff2d00" stroke-width="4.5" stroke-linecap="round"/>
<line x1="300.0" y1="550.7" x2="303.6" y2="576.4" stroke="#ffa900" stroke-width="3.0" stroke-linecap="round"/>
<polygon fill="#00aa9b" points="308.6,505.0 320.0,505.0 320.0,512.1 308.6,512.1"/>
<ellipse cx="172.9" cy="259.3" rx="5.0" ry="5.7" fill="#67ff00"/>
<ellipse cx="172.9" cy="259.3" rx="2.8" ry="3.1" fill="#c0fd00"/>
<ellipse cx="190.7" cy="257.9" rx="3.6" ry="4.3" fill="#67ff00"/>
<ellipse cx="190.7" cy="257.9" rx="2.0" ry="2.4" fill="#c0fd00"/>
<ellipse cx="201.4" cy="241.4" rx="5.0" ry="5.7" fill="#67ff00"/>
<ellipse cx="201.4" cy="241.4" rx="2.8" ry="3.1" fill="#c0fd00"/>
<ellipse cx="211.4" cy="225.0" rx="4.0" ry="7.9" fill="#67ff00"/>
<ellipse cx="211.4" cy="225.0" rx="2.2" ry="4.3" fill="#c0fd00"/>
<ellipse cx="222.1" cy="215.7" rx="4.3" ry="5.0" fill="#67ff00"/>
<ellipse cx="222.1" cy="215.7" rx="2.4" ry="2.8" fill="#c0fd00"/>
<ellipse cx="182.9" cy="266.4" rx="4.0" ry="4.0" fill="#67ff00"/>
<ellipse cx="182.9" cy="266.4" rx="2.2" ry="2.2" fill="#c0fd00"/>
<ellipse cx="165.7" cy="267.1" rx="2.6" ry="4.6" fill="#67ff00"/>
<ellipse cx="165.7" cy="267.1" rx="1.4" ry="2.5" fill="#c0fd00"/>
<ellipse cx="176.4" cy="272.1" rx="3.6" ry="3.6" fill="#67ff00"/>
<ellipse cx="176.4" cy="272.1" rx="2.0" ry="2.0" fill="#c0fd00"/>
<ellipse cx="158.6" cy="287.9" rx="4.3" ry="4.3" fill="#67ff00"/>
<ellipse cx="158.6" cy="287.9" rx="2.4" ry="2.4" fill="#c0fd00"/>
<line x1="324.3" y1="513.6" x2="330.0" y2="523.6" stroke="#f0ea00" stroke-width="2.5" stroke-linecap="round"/>
<line x1="332.9" y1="507.9" x2="338.6" y2="519.3" stroke="#f9d700" stroke-width="2.5" stroke-linecap="round"/>
<line x1="321.4" y1="529.3" x2="327.1" y2="540.7" stroke="#f0ea00" stroke-width="2.5" stroke-linecap="round"/>
<line x1="340.0" y1="522.1" x2="345.7" y2="532.1" stroke="#d8f500" stroke-width="2.0" stroke-linecap="round"/>
<line x1="328.6" y1="542.1" x2="334.3" y2="552.1" stroke="#f9d700" stroke-width="2.5" stroke-linecap="round"/>
<line x1="368.6" y1="505.0" x2="381.4" y2="512.9" stroke="#f90000" stroke-width="5.0" stroke-linecap="round"/>
<line x1="352.9" y1="540.7" x2="362.9" y2="552.1" stroke="#ffc500" stroke-width="3.0" stroke-linecap="round"/>
<line x1="322.9" y1="566.4" x2="328.6" y2="576.4" stroke="#ffa900" stroke-width="2.5" stroke-linecap="round"/>
<line x1="334.3" y1="559.3" x2="338.6" y2="569.3" stroke="#ffa900" stroke-width="2.5" stroke-linecap="round"/>
<line x1="341.4" y1="567.9" x2="347.1" y2="579.3" stroke="#ffc500" stroke-width="2.5" stroke-linecap="round"/>
<line x1="348.6" y1="556.4" x2="353.6" y2="567.9" stroke="#ffa900" stroke-width="2.5" stroke-linecap="round"/>
<line x1="328.6" y1="579.3" x2="332.9" y2="586.4" stroke="#ffc500" stroke-width="2.0" stroke-linecap="round"/>
<line x1="340.0" y1="459.3" x2="347.1" y2="470.7" stroke="#f9d700" stroke-width="3.0" stroke-linecap="round"/>
<line x1="348.6" y1="465.0" x2="354.3" y2="476.4" stroke="#f9d700" stroke-width="2.5" stroke-linecap="round"/>
<line x1="335.7" y1="485.0" x2="341.4" y2="496.4" stroke="#f9d700" stroke-width="2.5" stroke-linecap="round"/>
<line x1="360.0" y1="479.3" x2="365.7" y2="490.7" stroke="#ffc500" stroke-width="2.5" stroke-linecap="round"/>
<line x1="377.1" y1="485.0" x2="382.9" y2="496.4" stroke="#ffc500" stroke-width="2.5" stroke-linecap="round"/>
<line x1="287.1" y1="533.6" x2="291.4" y2="552.1" stroke="#f9d700" stroke-width="2.5" stroke-linecap="round"/>
<line x1="298.6" y1="516.4" x2="302.9" y2="530.7" stroke="#f9d700" stroke-width="2.5" stroke-linecap="round"/>
<line x1="312.9" y1="533.6" x2="316.4" y2="550.7" stroke="#f9d700" stroke-width="2.5" stroke-linecap="round"/>
<line x1="282.9" y1="569.3" x2="285.7" y2="582.1" stroke="#f9d700" stroke-width="2.0" stroke-linecap="round"/>
<line x1="303.6" y1="579.3" x2="305.7" y2="589.3" stroke="#f9d700" stroke-width="2.0" stroke-linecap="round"/>
<line x1="325.7" y1="559.3" x2="332.9" y2="572.1" stroke="#ffa900" stroke-width="3.0" stroke-linecap="round"/>
<line x1="337.1" y1="555.0" x2="342.9" y2="566.4" stroke="#ffc500" stroke-width="2.5" stroke-linecap="round"/>
<line x1="344.3" y1="562.1" x2="350.7" y2="575.0" stroke="#ffa900" stroke-width="3.0" stroke-linecap="round"/>
<line x1="332.9" y1="573.6" x2="338.6" y2="585.0" stroke="#ffa900" stroke-width="2.5" stroke-linecap="round"/>
<line x1="321.4" y1="573.6" x2="325.7" y2="582.1" stroke="#ffc500" stroke-width="2.5" stroke-linecap="round"/>
<line x1="350.7" y1="576.4" x2="354.3" y2="586.4" stroke="#ffa900" stroke-width="2.5" stroke-linecap="round"/>
<line x1="362.9" y1="452.1" x2="370.0" y2="462.1" stroke="#f9d700" stroke-width="3.0" stroke-linecap="round"/>
<line x1="352.9" y1="455.0" x2="358.6" y2="465.0" stroke="#f9d700" stroke-width="2.5" stroke-linecap="round"/>
<line x1="374.3" y1="472.1" x2="380.0" y2="482.1" stroke="#f9d700" stroke-width="2.5" stroke-linecap="round"/>
</g>
<path fill="none" stroke="#3cff00" stroke-width="1.8" d="M150.0,282.1 L161.4,279.3 L162.9,265.0 L167.1,252.1 L172.9,253.6 L178.6,260.7 L187.1,260.7 L188.6,253.6 L192.9,253.6 L200.0,257.9 L195.7,247.9 L194.3,239.3 L198.6,235.0 L192.9,232.1 L191.4,226.4 L195.7,227.9 L205.7,237.9 L210.0,237.9 L207.1,223.6 L208.6,216.4 L212.9,213.6 L217.1,219.3 L218.6,210.7 L217.1,205.0 L215.0,196.4 L218.6,189.3 L223.6,182.9 L230.0,179.3 L235.7,175.7 L239.3,170.0 L245.4,168.1 L248.6,172.1 L252.1,165.7 L257.1,161.4 L262.6,156.4 L266.0,158.1 L269.7,152.9 L278.6,153.3 L285.0,157.1 L285.4,147.9 L284.3,133.6 L285.0,123.6 L287.1,118.1 L298.6,114.3 L310.0,114.3 L320.0,117.9 L320.0,118.6 L328.6,119.3 L335.7,126.4 L347.1,128.6 L352.9,135.7 L361.4,138.6 L367.1,143.6 L368.6,152.1 L362.9,162.1 L355.7,167.9 L348.6,165.0 L344.3,172.1 L340.0,185.0 L343.6,205.0 L346.4,205.0 L352.1,222.1 L357.4,233.6 L356.9,245.0 L358.3,252.1 L362.9,253.6 L370.0,247.9 L372.9,259.3 L380.0,262.1 L381.4,269.3 L378.6,279.3 L380.0,287.9 L377.1,290.7 L376.4,305.0 L380.0,305.0 L388.6,310.7 L390.0,306.4 L394.3,296.4 L401.4,289.3 L408.6,286.4 L414.3,289.3 L417.1,297.9 L418.6,305.0 L420.0,307.9 L431.4,307.1 L433.6,319.3 L434.3,396.4 L425.7,400.0 L408.6,403.6 L397.1,404.3 L397.1,405.0 L389.3,409.3 L388.6,443.6 L385.7,444.3 L382.9,433.6 L379.3,412.1 L377.1,432.9 L372.1,435.7 L367.9,431.4 L364.3,437.1 L360.0,431.4 L358.6,443.6 L354.3,445.0 L353.6,453.6 L355.7,456.4 L361.4,456.4 L361.4,462.1 L364.3,460.0 L370.0,460.0 L370.0,469.3 L380.0,470.7 L384.3,479.3 L382.9,490.7 L387.1,505.0 L382.9,505.0 L377.1,513.6 L365.7,517.9 L361.4,523.6 L362.9,530.7 L357.1,535.0 L364.3,540.7 L365.7,553.6 L371.4,565.0 L367.1,566.4 L365.7,585.0 L355.7,589.3 L354.3,592.1 L320.0,592.1 L311.4,593.6 L301.4,590.7 L292.9,586.4 L288.6,585.0 L287.1,565.0 L281.4,562.1 L280.7,576.4 L277.1,576.4 L275.7,566.4 L272.9,559.3 L268.6,550.7 L264.3,546.4 L258.6,552.1 L255.7,545.0 L254.3,552.1 L248.6,555.0 L245.7,547.9 L244.3,530.7 L238.6,525.0 L235.7,516.4 L230.0,505.0 L225.7,490.7 L218.6,489.3 L215.7,482.1 L218.6,473.6 L215.7,465.0 L217.1,459.3 L220.0,447.9 L218.6,436.4 L212.9,439.3 L207.1,439.3 L202.9,443.6 L197.1,446.4 L185.7,456.4 L175.7,452.1 L171.4,442.1 L160.0,439.3 L158.6,419.3 L151.4,413.6 L150.0,405.0Z"/>
</g>
<g clip-path="url(#bodyclip)">
<polygon fill="#0fff00" points="385.0,305.0 387.1,319.3 387.1,390.7 390.0,405.0 435.7,405.0 435.7,305.0"/>
<polygon fill="#67ff00" points="388.6,305.0 390.7,319.3 390.7,390.7 393.6,405.0 435.7,405.0 435.7,305.0"/>
<polygon fill="#c0fd00" points="391.4,305.0 393.6,319.3 393.6,390.7 396.4,405.0 435.7,405.0 435.7,305.0"/>
<polygon fill="#f0ea00" points="394.3,310.7 396.4,326.4 396.9,390.7 399.0,405.0 435.7,405.0 435.7,305.0 391.4,305.0"/>
<polygon fill="#ffc500" points="397.9,313.6 402.9,333.6 404.0,390.7 406.0,405.0 435.7,405.0 435.7,305.0 394.3,305.0"/>
<polygon fill="#ff8100" points="399.3,315.0 404.6,335.0 405.7,393.6 407.4,405.0 435.7,405.0 435.7,305.0 392.9,305.0"/>
<polygon fill="#ff2d00" points="400.0,316.4 405.7,336.4 407.4,397.9 408.9,405.0 435.7,405.0 435.7,305.0 391.4,305.0"/>
<polygon fill="#f90000" points="388.6,305.0 420.0,305.0 420.0,326.4 414.3,337.9 422.9,355.0 426.4,369.3 425.7,400.0 410.3,403.6 409.3,376.4 407.9,340.7 403.6,333.6 402.1,319.3 394.3,312.1 388.6,310.7"/>
<polygon fill="#e60000" points="405.7,316.4 418.6,319.3 418.6,327.9 412.9,337.9 420.0,352.1 423.6,369.3 422.9,397.9 412.9,401.0 412.1,376.4 410.7,347.9 405.4,333.6"/>
<polygon fill="#d80000" points="407.9,320.7 417.1,322.1 416.9,329.3 412.1,339.3 418.6,353.6 421.7,369.3 421.1,395.0 415.0,397.9 414.3,376.4 412.9,347.9 407.4,333.6"/>
<polygon fill="#ff8100" points="420.0,307.9 431.4,307.1 434.3,319.3 434.3,396.4 425.7,399.3 426.4,369.3 422.9,355.0 414.3,337.9 420.0,326.4"/>
<polygon fill="#ffa900" points="422.1,307.9 431.4,307.1 434.3,319.3 434.3,396.4 427.9,398.6 428.6,369.3 425.0,355.0 417.1,337.9 422.1,326.4"/>
<polygon fill="#f9d700" points="432.9,319.3 434.3,319.3 434.3,396.4 432.9,397.1"/>
<polygon fill="#d80000" points="390.0,305.0 394.3,296.4 401.4,289.3 408.6,286.4 414.3,289.3 417.1,297.9 418.6,305.0"/>
<polygon fill="#d80000" points="388.6,305.0 420.0,305.0 418.6,313.6 405.7,317.9 394.3,312.1 388.6,310.7"/>
<polygon fill="#cc3c3c" points="401.4,305.0 418.6,305.0 417.9,313.6 415.0,320.7 411.4,319.3 405.7,315.0"/>
<polygon fill="#cc3c3c" points="400.7,305.0 401.4,297.9 405.7,294.3 410.0,296.4 412.9,305.0"/>
<polygon fill="#cc9c9c" points="405.7,305.0 412.9,305.0 412.9,312.1 407.9,313.6"/>
<polygon fill="#cc9c9c" points="404.3,305.0 405.0,297.9 407.9,296.4 410.7,305.0"/>
</g>
<polygon fill="#ffa900" points="370.0,142.9 377.1,140.0 388.6,152.9 402.1,170.0 405.0,179.3 397.9,183.6 390.7,175.0 380.7,163.6 376.0,155.0 369.3,166.4 362.9,169.3 360.7,162.9 367.9,152.9"/>
<polygon fill="#f0ea00" points="369.3,142.4 377.1,139.6 378.6,141.4 370.7,144.3"/>
<polygon fill="#e60000" points="373.1,145.7 377.4,144.3 384.3,156.4 380.7,160.0 376.4,153.6"/>
<polygon fill="#e60000" points="382.9,157.1 387.1,155.7 391.4,163.6 387.9,166.4 384.3,163.6"/>
<polygon fill="#e60000" points="393.6,169.3 397.9,167.9 402.1,176.4 398.6,180.0 395.0,175.7"/>
<polygon fill="#f90000" points="367.9,154.3 371.7,152.9 369.3,160.0 365.4,164.3 363.6,162.9"/>
<line x1="368.6" y1="137.9" x2="373.1" y2="128.6" stroke="#67ff00" stroke-width="5.5" stroke-linecap="round"/>
<line x1="368.6" y1="137.9" x2="373.1" y2="128.6" stroke="#f9d700" stroke-width="4.5" stroke-linecap="round"/>
<line x1="368.6" y1="137.9" x2="373.1" y2="128.6" stroke="#ffa900" stroke-width="3.1" stroke-linecap="round"/>
<line x1="379.7" y1="135.0" x2="384.0" y2="127.6" stroke="#f9d700" stroke-width="4.2" stroke-linecap="round"/>
<line x1="379.7" y1="135.0" x2="384.0" y2="127.6" stroke="#ffa900" stroke-width="2.8" stroke-linecap="round"/>
<line x1="391.4" y1="140.7" x2="402.1" y2="129.0" stroke="#67ff00" stroke-width="5.5" stroke-linecap="round"/>
<line x1="391.4" y1="140.7" x2="402.1" y2="129.0" stroke="#f0ea00" stroke-width="4.5" stroke-linecap="round"/>
<line x1="391.4" y1="140.7" x2="402.1" y2="129.0" stroke="#ffa900" stroke-width="3.1" stroke-linecap="round"/>
<line x1="395.7" y1="154.3" x2="401.7" y2="145.7" stroke="#67ff00" stroke-width="5.2" stroke-linecap="round"/>
<line x1="395.7" y1="154.3" x2="401.7" y2="145.7" stroke="#f9d700" stroke-width="4.2" stroke-linecap="round"/>
<line x1="395.7" y1="154.3" x2="401.7" y2="145.7" stroke="#ffa900" stroke-width="2.8" stroke-linecap="round"/>
<line x1="407.4" y1="151.4" x2="413.1" y2="143.6" stroke="#67ff00" stroke-width="5.2" stroke-linecap="round"/>
<line x1="407.4" y1="151.4" x2="413.1" y2="143.6" stroke="#d8f500" stroke-width="4.2" stroke-linecap="round"/>
<line x1="407.4" y1="151.4" x2="413.1" y2="143.6" stroke="#f9d700" stroke-width="2.8" stroke-linecap="round"/>
<line x1="402.1" y1="164.3" x2="406.9" y2="155.7" stroke="#67ff00" stroke-width="5.2" stroke-linecap="round"/>
<line x1="402.1" y1="164.3" x2="406.9" y2="155.7" stroke="#c0fd00" stroke-width="4.2" stroke-linecap="round"/>
<line x1="402.1" y1="164.3" x2="406.9" y2="155.7" stroke="#f0ea00" stroke-width="2.8" stroke-linecap="round"/>
<line x1="409.3" y1="161.4" x2="414.0" y2="154.3" stroke="#f9d700" stroke-width="4.2" stroke-linecap="round"/>
<line x1="409.3" y1="161.4" x2="414.0" y2="154.3" stroke="#ffa900" stroke-width="2.8" stroke-linecap="round"/>
<line x1="412.1" y1="167.1" x2="418.3" y2="158.6" stroke="#67ff00" stroke-width="5.2" stroke-linecap="round"/>
<line x1="412.1" y1="167.1" x2="418.3" y2="158.6" stroke="#c0fd00" stroke-width="4.2" stroke-linecap="round"/>
<line x1="412.1" y1="167.1" x2="418.3" y2="158.6" stroke="#f0ea00" stroke-width="2.8" stroke-linecap="round"/>
<line x1="409.3" y1="177.1" x2="414.0" y2="171.9" stroke="#c0fd00" stroke-width="4.2" stroke-linecap="round"/>
<line x1="409.3" y1="177.1" x2="414.0" y2="171.9" stroke="#f0ea00" stroke-width="2.8" stroke-linecap="round"/>
<line x1="416.4" y1="182.9" x2="423.1" y2="175.7" stroke="#67ff00" stroke-width="5.2" stroke-linecap="round"/>
<line x1="416.4" y1="182.9" x2="423.1" y2="175.7" stroke="#c0fd00" stroke-width="4.2" stroke-linecap="round"/>
<line x1="416.4" y1="182.9" x2="423.1" y2="175.7" stroke="#f0ea00" stroke-width="2.8" stroke-linecap="round"/>
<line x1="420.7" y1="185.7" x2="429.7" y2="178.1" stroke="#c0fd00" stroke-width="3.9" stroke-linecap="round"/>
<line x1="420.7" y1="185.7" x2="429.7" y2="178.1" stroke="#f0ea00" stroke-width="2.5" stroke-linecap="round"/>
<line x1="427.9" y1="187.1" x2="434.0" y2="179.3" stroke="#c0fd00" stroke-width="3.9" stroke-linecap="round"/>
<line x1="427.9" y1="187.1" x2="434.0" y2="179.3" stroke="#f0ea00" stroke-width="2.5" stroke-linecap="round"/>
<line x1="432.1" y1="191.4" x2="438.9" y2="184.3" stroke="#67ff00" stroke-width="4.9" stroke-linecap="round"/>
<line x1="432.1" y1="191.4" x2="438.9" y2="184.3" stroke="#c0fd00" stroke-width="3.9" stroke-linecap="round"/>
<line x1="432.1" y1="191.4" x2="438.9" y2="184.3" stroke="#f0ea00" stroke-width="2.5" stroke-linecap="round"/>
<line x1="425.0" y1="198.6" x2="432.6" y2="192.4" stroke="#67ff00" stroke-width="6.2" stroke-linecap="round"/>
<line x1="425.0" y1="198.6" x2="432.6" y2="192.4" stroke="#f9d700" stroke-width="5.2" stroke-linecap="round"/>
<line x1="425.0" y1="198.6" x2="432.6" y2="192.4" stroke="#ff8100" stroke-width="3.8" stroke-linecap="round"/>
<line x1="441.4" y1="200.0" x2="448.1" y2="193.6" stroke="#ffc500" stroke-width="5.2" stroke-linecap="round"/>
<line x1="441.4" y1="200.0" x2="448.1" y2="193.6" stroke="#ff2d00" stroke-width="3.8" stroke-linecap="round"/>
<polygon fill="#e60000" points="402.1,176.4 407.1,175.0 411.4,182.1 410.7,190.7 405.7,193.6 401.4,189.3"/>
<polygon fill="#f9d700" points="400.7,175.0 405.7,173.6 404.3,176.4 401.4,179.3"/>
<polygon fill="#e60000" points="409.3,193.6 415.7,186.4 422.1,190.7 422.9,205.0 408.6,205.0"/>
<polygon fill="#cc3c3c" points="414.6,195.7 417.1,195.7 417.1,198.6 414.6,198.6"/>
<line x1="373.5" y1="175.5" x2="395.0" y2="203.0" stroke="#00aa00" stroke-width="4.8" stroke-linecap="round"/>
<polygon fill="#00a248" points="347.1,173.6 354.3,175.0 353.6,193.6 348.6,190.7"/>
<line x1="362.9" y1="179.3" x2="364.3" y2="189.3" stroke="#f0ea00" stroke-width="5.2" stroke-linecap="round"/>
<line x1="362.9" y1="179.3" x2="364.3" y2="189.3" stroke="#ffa900" stroke-width="3.8" stroke-linecap="round"/>
<line x1="375.0" y1="179.3" x2="379.3" y2="175.7" stroke="#f0ea00" stroke-width="4.2" stroke-linecap="round"/>
<line x1="375.0" y1="179.3" x2="379.3" y2="175.7" stroke="#ffa900" stroke-width="2.8" stroke-linecap="round"/>
<line x1="387.1" y1="197.9" x2="391.4" y2="192.1" stroke="#f0ea00" stroke-width="6.4" stroke-linecap="round"/>
<line x1="387.1" y1="197.9" x2="391.4" y2="192.1" stroke="#ffa900" stroke-width="5.0" stroke-linecap="round"/>
<line x1="370.0" y1="172.1" x2="372.1" y2="167.9" stroke="#67ff00" stroke-width="4.2" stroke-linecap="round"/>
<line x1="370.0" y1="172.1" x2="372.1" y2="167.9" stroke="#f0ea00" stroke-width="2.8" stroke-linecap="round"/>
<line x1="377.1" y1="190.7" x2="381.4" y2="186.4" stroke="#67ff00" stroke-width="3.9" stroke-linecap="round"/>
<line x1="377.1" y1="190.7" x2="381.4" y2="186.4" stroke="#d8f500" stroke-width="2.5" stroke-linecap="round"/>
<line x1="341.4" y1="179.3" x2="343.6" y2="190.7" stroke="#67ff00" stroke-width="3.9" stroke-linecap="round"/>
<line x1="341.4" y1="179.3" x2="343.6" y2="190.7" stroke="#f0ea00" stroke-width="2.5" stroke-linecap="round"/>
<line x1="348.6" y1="196.4" x2="350.7" y2="205.0" stroke="#67ff00" stroke-width="3.9" stroke-linecap="round"/>
<line x1="348.6" y1="196.4" x2="350.7" y2="205.0" stroke="#d8f500" stroke-width="2.5" stroke-linecap="round"/>
<polygon fill="#ffc500" points="337.0,197.0 345.0,193.0 352.0,200.0 362.0,204.0 372.0,203.0 384.0,200.0 390.0,196.0 391.0,205.0 389.0,214.0 394.0,239.0 383.0,234.0 373.0,232.0 368.0,227.0 363.0,233.0 357.0,234.0 352.0,222.0 347.0,212.0"/>
<line x1="358.6" y1="213.6" x2="365.7" y2="205.0" stroke="#c0fd00" stroke-width="4.5" stroke-linecap="round"/>
<line x1="358.6" y1="213.6" x2="365.7" y2="205.0" stroke="#f0ea00" stroke-width="3.1" stroke-linecap="round"/>
<line x1="368.6" y1="217.9" x2="375.7" y2="207.9" stroke="#c0fd00" stroke-width="4.5" stroke-linecap="round"/>
<line x1="368.6" y1="217.9" x2="375.7" y2="207.9" stroke="#f0ea00" stroke-width="3.1" stroke-linecap="round"/>
<line x1="377.1" y1="226.4" x2="384.3" y2="213.6" stroke="#c0fd00" stroke-width="4.5" stroke-linecap="round"/>
<line x1="377.1" y1="226.4" x2="384.3" y2="213.6" stroke="#f0ea00" stroke-width="3.1" stroke-linecap="round"/>
<line x1="362.9" y1="222.1" x2="367.1" y2="216.4" stroke="#c0fd00" stroke-width="4.5" stroke-linecap="round"/>
<line x1="362.9" y1="222.1" x2="367.1" y2="216.4" stroke="#f0ea00" stroke-width="3.1" stroke-linecap="round"/>
<line x1="375.7" y1="229.3" x2="382.9" y2="225.0" stroke="#ff2d00" stroke-width="3.8" stroke-linecap="round"/>
<line x1="380.0" y1="219.3" x2="387.1" y2="210.7" stroke="#ff2d00" stroke-width="3.8" stroke-linecap="round"/>
<line x1="370.0" y1="210.7" x2="374.3" y2="205.0" stroke="#67ff00" stroke-width="2.5" stroke-linecap="round"/>
<polygon fill="#e60000" points="405.7,206.4 422.9,205.0 412.9,219.3 411.4,227.9 402.9,237.9 394.3,239.3 390.0,230.7 391.4,219.3"/>
<polygon fill="#ff2d00" points="388.6,213.6 394.3,212.1 391.4,219.3 390.0,230.7 387.1,225.0"/>
<polygon fill="#d80000" points="420.0,220.7 425.7,215.0 434.3,217.9 435.7,225.0 430.0,229.3 422.9,227.9"/>
<polygon fill="#cc3c3c" points="426.4,222.1 430.0,222.1 430.0,224.3 426.4,224.3"/>
<line x1="425.0" y1="235.7" x2="439.3" y2="227.1" stroke="#ff2d00" stroke-width="8.3" stroke-linecap="round"/>
<line x1="425.0" y1="235.7" x2="439.3" y2="227.1" stroke="#d80000" stroke-width="6.9" stroke-linecap="round"/>
<line x1="430.0" y1="243.3" x2="443.1" y2="238.1" stroke="#ff2d00" stroke-width="8.3" stroke-linecap="round"/>
<line x1="430.0" y1="243.3" x2="443.1" y2="238.1" stroke="#d80000" stroke-width="6.9" stroke-linecap="round"/>
<line x1="434.3" y1="252.9" x2="444.6" y2="245.7" stroke="#ff2d00" stroke-width="8.9" stroke-linecap="round"/>
<line x1="434.3" y1="252.9" x2="444.6" y2="245.7" stroke="#d80000" stroke-width="7.5" stroke-linecap="round"/>
<line x1="442.1" y1="261.4" x2="449.3" y2="256.7" stroke="#ff8100" stroke-width="6.4" stroke-linecap="round"/>
<line x1="442.1" y1="261.4" x2="449.3" y2="256.7" stroke="#e60000" stroke-width="5.0" stroke-linecap="round"/>
<line x1="444.0" y1="271.4" x2="450.7" y2="265.7" stroke="#ff8100" stroke-width="7.0" stroke-linecap="round"/>
<line x1="444.0" y1="271.4" x2="450.7" y2="265.7" stroke="#e60000" stroke-width="5.6" stroke-linecap="round"/>
<line x1="442.6" y1="278.6" x2="452.1" y2="275.3" stroke="#ffa900" stroke-width="5.8" stroke-linecap="round"/>
<line x1="442.6" y1="278.6" x2="452.1" y2="275.3" stroke="#e60000" stroke-width="4.4" stroke-linecap="round"/>
<line x1="449.7" y1="227.6" x2="457.4" y2="223.3" stroke="#d8f500" stroke-width="4.4" stroke-linecap="round"/>
<line x1="449.7" y1="227.6" x2="457.4" y2="223.3" stroke="#f9d700" stroke-width="3.0" stroke-linecap="round"/>
<line x1="449.7" y1="235.3" x2="457.9" y2="230.4" stroke="#ffc500" stroke-width="4.7" stroke-linecap="round"/>
<line x1="449.7" y1="235.3" x2="457.9" y2="230.4" stroke="#ff8100" stroke-width="3.2" stroke-linecap="round"/>
<line x1="449.7" y1="246.1" x2="457.4" y2="241.9" stroke="#d8f500" stroke-width="4.2" stroke-linecap="round"/>
<line x1="449.7" y1="246.1" x2="457.4" y2="241.9" stroke="#f9d700" stroke-width="2.8" stroke-linecap="round"/>
<line x1="464.3" y1="248.1" x2="472.3" y2="243.9" stroke="#ffa900" stroke-width="4.9" stroke-linecap="round"/>
<line x1="464.3" y1="248.1" x2="472.3" y2="243.9" stroke="#ff2d00" stroke-width="3.5" stroke-linecap="round"/>
<line x1="460.0" y1="263.3" x2="468.0" y2="259.0" stroke="#d8f500" stroke-width="4.2" stroke-linecap="round"/>
<line x1="460.0" y1="263.3" x2="468.0" y2="259.0" stroke="#f9d700" stroke-width="2.8" stroke-linecap="round"/>
<line x1="452.6" y1="289.0" x2="460.0" y2="285.0" stroke="#ffa900" stroke-width="5.8" stroke-linecap="round"/>
<line x1="452.6" y1="289.0" x2="460.0" y2="285.0" stroke="#f90000" stroke-width="4.4" stroke-linecap="round"/>
<line x1="440.7" y1="289.0" x2="447.4" y2="286.1" stroke="#d8f500" stroke-width="4.2" stroke-linecap="round"/>
<line x1="440.7" y1="289.0" x2="447.4" y2="286.1" stroke="#f9d700" stroke-width="2.8" stroke-linecap="round"/>
<line x1="443.6" y1="296.1" x2="453.6" y2="293.9" stroke="#f0ea00" stroke-width="4.7" stroke-linecap="round"/>
<line x1="443.6" y1="296.1" x2="453.6" y2="293.9" stroke="#ffc500" stroke-width="3.2" stroke-linecap="round"/>
<line x1="452.1" y1="303.3" x2="462.1" y2="301.0" stroke="#c0fd00" stroke-width="3.9" stroke-linecap="round"/>
<line x1="452.1" y1="303.3" x2="462.1" y2="301.0" stroke="#f0ea00" stroke-width="2.5" stroke-linecap="round"/>
<polygon fill="#00a248" points="374.3,237.9 388.6,238.6 388.6,249.3 382.9,247.9 377.1,246.4"/>
<polygon fill="#00aa00" points="398.6,243.6 400.7,243.6 400.7,250.7 398.6,250.7"/>
<polygon fill="#00aa00" points="406.4,242.1 409.3,242.1 409.3,252.1 406.4,252.1"/>
<polygon fill="#00aa00" points="412.9,246.4 415.7,246.4 415.7,253.6 412.9,253.6"/>
<polygon fill="#00aa00" points="418.6,239.3 420.0,239.3 420.0,246.4 418.6,246.4"/>
<polygon fill="#00aa00" points="400.7,264.3 402.9,264.3 402.9,271.4 400.7,271.4"/>
<polygon fill="#00aa00" points="407.1,266.4 408.6,266.4 408.6,268.6 407.1,268.6"/>
<polygon fill="#00aa00" points="421.4,270.0 423.6,270.0 423.6,272.1 421.4,272.1"/>
<polygon fill="#00aa00" points="417.1,277.9 418.6,277.9 418.6,280.0 417.1,280.0"/>
<polygon fill="#00aa00" points="424.3,276.4 426.4,276.4 426.4,285.0 424.3,285.0"/>
<polygon fill="#00aa00" points="428.6,273.6 430.7,273.6 430.7,279.3 428.6,279.3"/>
<polygon fill="#00aa00" points="435.0,290.7 437.9,290.7 437.9,297.9 435.0,297.9"/>
<polygon fill="#00aa00" points="424.3,292.9 425.7,292.9 425.7,295.7 424.3,295.7"/>
<polygon fill="#00aa00" points="426.4,297.9 429.3,297.9 429.3,303.6 426.4,303.6"/>
<polygon fill="#00aa00" points="395.0,254.3 396.0,254.3 396.0,257.1 395.0,257.1"/>
<polygon fill="#00aa00" points="407.1,257.1 408.0,257.1 408.0,260.0 407.1,260.0"/>
<line x1="407.1" y1="235.0" x2="412.9" y2="232.1" stroke="#00cc00" stroke-width="3.8" stroke-linecap="round"/>
<polygon fill="#f9d700" points="414.3,255.7 428.6,255.0 427.1,262.1 415.7,262.1"/>
<polygon fill="#ffa900" points="418.6,262.1 425.7,261.4 425.0,267.9 419.3,267.9"/>
<line x1="433.6" y1="272.1" x2="440.7" y2="272.1" stroke="#f0ea00" stroke-width="2.5" stroke-linecap="round"/>
<line x1="427.9" y1="281.4" x2="435.0" y2="280.0" stroke="#c0fd00" stroke-width="5.2" stroke-linecap="round"/>
<line x1="427.9" y1="281.4" x2="435.0" y2="280.0" stroke="#f0ea00" stroke-width="3.8" stroke-linecap="round"/>
<line x1="405.7" y1="226.4" x2="411.4" y2="222.1" stroke="#f9d700" stroke-width="2.8" stroke-linecap="round"/>
<line x1="414.3" y1="239.3" x2="418.6" y2="233.6" stroke="#f9d700" stroke-width="2.8" stroke-linecap="round"/>
<polygon fill="#ff8100" points="447.9,309.3 454.3,307.1 462.9,310.7 462.1,316.4 452.9,316.4 448.6,313.6"/>
<polygon fill="#f0ea00" points="457.1,307.9 462.9,309.3 462.9,315.7 457.1,316.4"/>
<polygon fill="#f90000" points="449.3,310.0 455.7,308.6 457.9,314.3 451.4,315.0"/>
<line x1="468.6" y1="314.7" x2="475.7" y2="312.9" stroke="#ffa900" stroke-width="5.2" stroke-linecap="round"/>
<line x1="468.6" y1="314.7" x2="475.7" y2="312.9" stroke="#f90000" stroke-width="3.8" stroke-linecap="round"/>
<polygon fill="#f0ea00" points="447.9,326.4 451.4,326.4 451.4,328.6 447.9,328.6"/>
<line x1="448.6" y1="333.3" x2="455.7" y2="333.3" stroke="#ffa900" stroke-width="2.2" stroke-linecap="round"/>
<line x1="460.7" y1="332.4" x2="467.9" y2="331.6" stroke="#c0fd00" stroke-width="4.2" stroke-linecap="round"/>
<line x1="460.7" y1="332.4" x2="467.9" y2="331.6" stroke="#f0ea00" stroke-width="2.8" stroke-linecap="round"/>
<polygon fill="#e60000" points="445.7,344.3 454.3,342.9 455.7,347.9 447.1,349.3"/>
<line x1="461.4" y1="348.1" x2="468.6" y2="348.1" stroke="#ffa900" stroke-width="3.9" stroke-linecap="round"/>
<line x1="461.4" y1="348.1" x2="468.6" y2="348.1" stroke="#f90000" stroke-width="2.5" stroke-linecap="round"/>
<line x1="452.9" y1="357.6" x2="460.0" y2="357.6" stroke="#ffa900" stroke-width="2.5" stroke-linecap="round"/>
<line x1="472.9" y1="364.3" x2="480.7" y2="364.3" stroke="#f90000" stroke-width="3.1" stroke-linecap="round"/>
<polygon fill="#f9d700" points="445.0,365.7 452.9,363.6 457.9,365.0 455.7,370.7 447.1,370.7"/>
<polygon fill="#e60000" points="448.6,366.4 455.0,364.3 455.7,367.1 450.7,369.3"/>
<polygon fill="#ffa900" points="446.4,379.3 452.9,378.6 455.0,383.6 448.6,384.3"/>
<line x1="455.0" y1="380.0" x2="461.4" y2="380.0" stroke="#c0fd00" stroke-width="4.4" stroke-linecap="round"/>
<line x1="455.0" y1="380.0" x2="461.4" y2="380.0" stroke="#f0ea00" stroke-width="3.0" stroke-linecap="round"/>
<line x1="460.7" y1="403.6" x2="467.9" y2="403.6" stroke="#f0ea00" stroke-width="2.8" stroke-linecap="round"/>
<polygon fill="#00aa00" points="440.0,309.3 441.1,309.3 441.1,312.1 440.0,312.1"/>
<polygon fill="#00aa00" points="440.0,317.1 441.7,317.1 441.7,319.3 440.0,319.3"/>
<polygon fill="#00aa00" points="450.3,317.1 452.1,317.1 452.1,319.3 450.3,319.3"/>
<polygon fill="#00aa00" points="442.9,332.9 444.0,332.9 444.0,335.7 442.9,335.7"/>
<polygon fill="#00aa00" points="436.0,356.4 437.1,356.4 437.1,358.6 436.0,358.6"/>
<polygon fill="#00aa00" points="449.3,372.1 450.7,372.1 450.7,375.0 449.3,375.0"/>
<polygon fill="#00aa00" points="437.4,377.1 438.6,377.1 438.6,379.3 437.4,379.3"/>
<polygon fill="#00aa00" points="443.1,398.6 444.0,398.6 444.0,401.4 443.1,401.4"/>
<polygon fill="#00aa00" points="434.3,306.4 435.1,306.4 435.1,308.6 434.3,308.6"/>
<line x1="387.9" y1="480.0" x2="393.6" y2="488.6" stroke="#f0ea00" stroke-width="4.4" stroke-linecap="round"/>
<line x1="387.9" y1="480.0" x2="393.6" y2="488.6" stroke="#ffc500" stroke-width="3.0" stroke-linecap="round"/>
<line x1="396.4" y1="475.7" x2="401.1" y2="483.3" stroke="#f0ea00" stroke-width="4.4" stroke-linecap="round"/>
<line x1="396.4" y1="475.7" x2="401.1" y2="483.3" stroke="#ffa900" stroke-width="3.0" stroke-linecap="round"/>
<line x1="405.4" y1="475.0" x2="410.7" y2="485.3" stroke="#f9d700" stroke-width="5.4" stroke-linecap="round"/>
<line x1="405.4" y1="475.0" x2="410.7" y2="485.3" stroke="#ffa900" stroke-width="4.0" stroke-linecap="round"/>
<line x1="400.7" y1="488.6" x2="405.4" y2="495.7" stroke="#c0fd00" stroke-width="4.2" stroke-linecap="round"/>
<line x1="400.7" y1="488.6" x2="405.4" y2="495.7" stroke="#f0ea00" stroke-width="2.8" stroke-linecap="round"/>
<line x1="406.4" y1="488.6" x2="411.1" y2="494.7" stroke="#c0fd00" stroke-width="4.2" stroke-linecap="round"/>
<line x1="406.4" y1="488.6" x2="411.1" y2="494.7" stroke="#f0ea00" stroke-width="2.8" stroke-linecap="round"/>
<line x1="397.9" y1="495.7" x2="405.4" y2="503.3" stroke="#c0fd00" stroke-width="4.2" stroke-linecap="round"/>
<line x1="397.9" y1="495.7" x2="405.4" y2="503.3" stroke="#f0ea00" stroke-width="2.8" stroke-linecap="round"/>
<line x1="406.4" y1="497.1" x2="413.6" y2="504.7" stroke="#f0ea00" stroke-width="4.4" stroke-linecap="round"/>
<line x1="406.4" y1="497.1" x2="413.6" y2="504.7" stroke="#ffa900" stroke-width="3.0" stroke-linecap="round"/>
<line x1="386.0" y1="488.1" x2="391.1" y2="493.3" stroke="#ffc500" stroke-width="4.4" stroke-linecap="round"/>
<line x1="386.0" y1="488.1" x2="391.1" y2="493.3" stroke="#ff2d00" stroke-width="3.0" stroke-linecap="round"/>
<line x1="420.7" y1="467.1" x2="426.0" y2="473.3" stroke="#f9d700" stroke-width="4.7" stroke-linecap="round"/>
<line x1="420.7" y1="467.1" x2="426.0" y2="473.3" stroke="#ffa900" stroke-width="3.2" stroke-linecap="round"/>
<line x1="419.0" y1="478.6" x2="422.6" y2="484.7" stroke="#f0ea00" stroke-width="4.4" stroke-linecap="round"/>
<line x1="419.0" y1="478.6" x2="422.6" y2="484.7" stroke="#ffc500" stroke-width="3.0" stroke-linecap="round"/>
<polygon fill="#f90000" points="430.0,462.1 437.1,459.3 445.7,462.1 444.3,469.3 445.7,476.4 440.0,479.3 432.9,476.4 430.0,469.3"/>
<polygon fill="#f9d700" points="436.4,467.9 441.4,466.4 442.1,472.1 438.6,473.6"/>
<line x1="424.0" y1="477.6" x2="432.1" y2="484.7" stroke="#ffa900" stroke-width="6.4" stroke-linecap="round"/>
<line x1="424.0" y1="477.6" x2="432.1" y2="484.7" stroke="#e60000" stroke-width="5.0" stroke-linecap="round"/>
<line x1="422.6" y1="483.3" x2="430.7" y2="495.7" stroke="#ffa900" stroke-width="7.7" stroke-linecap="round"/>
<line x1="422.6" y1="483.3" x2="430.7" y2="495.7" stroke="#e60000" stroke-width="6.2" stroke-linecap="round"/>
<line x1="435.0" y1="482.9" x2="441.7" y2="489.0" stroke="#d8f500" stroke-width="4.7" stroke-linecap="round"/>
<line x1="435.0" y1="482.9" x2="441.7" y2="489.0" stroke="#f9d700" stroke-width="3.2" stroke-linecap="round"/>
<line x1="437.9" y1="447.1" x2="444.0" y2="451.9" stroke="#c0fd00" stroke-width="4.4" stroke-linecap="round"/>
<line x1="437.9" y1="447.1" x2="444.0" y2="451.9" stroke="#f0ea00" stroke-width="3.0" stroke-linecap="round"/>
<line x1="444.0" y1="449.0" x2="452.1" y2="455.7" stroke="#ffa900" stroke-width="6.4" stroke-linecap="round"/>
<line x1="444.0" y1="449.0" x2="452.1" y2="455.7" stroke="#e60000" stroke-width="5.0" stroke-linecap="round"/>
<line x1="442.1" y1="455.7" x2="448.3" y2="460.4" stroke="#f9d700" stroke-width="4.9" stroke-linecap="round"/>
<line x1="442.1" y1="455.7" x2="448.3" y2="460.4" stroke="#ffa900" stroke-width="3.5" stroke-linecap="round"/>
<line x1="453.6" y1="458.6" x2="458.9" y2="464.7" stroke="#f0ea00" stroke-width="4.7" stroke-linecap="round"/>
<line x1="453.6" y1="458.6" x2="458.9" y2="464.7" stroke="#ffc500" stroke-width="3.2" stroke-linecap="round"/>
<line x1="450.0" y1="468.6" x2="456.4" y2="473.3" stroke="#ffa900" stroke-width="5.9" stroke-linecap="round"/>
<line x1="450.0" y1="468.6" x2="456.4" y2="473.3" stroke="#f90000" stroke-width="4.5" stroke-linecap="round"/>
<line x1="458.6" y1="471.4" x2="465.0" y2="476.1" stroke="#ffa900" stroke-width="5.9" stroke-linecap="round"/>
<line x1="458.6" y1="471.4" x2="465.0" y2="476.1" stroke="#f90000" stroke-width="4.5" stroke-linecap="round"/>
<line x1="440.7" y1="434.3" x2="455.0" y2="436.4" stroke="#d8f500" stroke-width="5.2" stroke-linecap="round"/>
<line x1="440.7" y1="434.3" x2="455.0" y2="436.4" stroke="#f9d700" stroke-width="3.8" stroke-linecap="round"/>
<line x1="447.9" y1="441.9" x2="455.0" y2="445.7" stroke="#c0fd00" stroke-width="4.4" stroke-linecap="round"/>
<line x1="447.9" y1="441.9" x2="455.0" y2="445.7" stroke="#f0ea00" stroke-width="3.0" stroke-linecap="round"/>
<line x1="455.0" y1="441.9" x2="462.9" y2="447.1" stroke="#ffa900" stroke-width="5.7" stroke-linecap="round"/>
<line x1="455.0" y1="441.9" x2="462.9" y2="447.1" stroke="#f90000" stroke-width="4.2" stroke-linecap="round"/>
<polygon fill="#ffa900" points="442.9,418.6 447.9,417.1 453.6,419.3 452.9,424.3 445.7,425.0"/>
<polygon fill="#f90000" points="445.7,420.0 450.7,419.3 450.7,422.9 446.4,423.3"/>
<polygon fill="#d80000" points="445.7,475.0 451.4,473.6 457.1,479.3 464.3,485.0 462.9,496.4 457.1,497.9 451.4,493.6 448.6,485.0"/>
<line x1="449.7" y1="477.9" x2="456.9" y2="488.6" stroke="#cc3c3c" stroke-width="3.9" stroke-linecap="round"/>
<line x1="449.7" y1="477.9" x2="456.9" y2="488.6" stroke="#cc9c9c" stroke-width="2.5" stroke-linecap="round"/>
<polygon fill="#00aa00" points="426.4,415.7 427.9,415.7 427.9,418.6 426.4,418.6"/>
<polygon fill="#00aa00" points="424.0,426.1 425.7,426.1 425.7,428.6 424.0,428.6"/>
<polygon fill="#00aa00" points="431.1,426.1 435.0,426.1 435.0,428.6 431.1,428.6"/>
<polygon fill="#00aa00" points="436.0,432.1 439.3,432.1 439.3,437.9 436.0,437.9"/>
<polygon fill="#00aa00" points="426.4,441.4 430.0,441.4 430.0,450.7 426.4,450.7"/>
<polygon fill="#00aa00" points="422.1,437.9 423.1,437.9 423.1,440.7 422.1,440.7"/>
<polygon fill="#00aa00" points="434.3,447.9 436.4,447.9 436.4,457.9 434.3,457.9"/>
<polygon fill="#00aa00" points="414.3,460.7 417.1,460.7 417.1,465.0 414.3,465.0"/>
<polygon fill="#00aa00" points="406.4,457.9 407.9,457.9 407.9,460.7 406.4,460.7"/>
<polygon fill="#00aa00" points="392.9,465.0 395.0,465.0 395.0,472.1 392.9,472.1"/>
<polygon fill="#00aa00" points="386.4,465.0 387.9,465.0 387.9,467.9 386.4,467.9"/>
<polygon fill="#00aa00" points="382.9,469.3 385.0,469.3 385.0,472.9 382.9,472.9"/>
<polygon fill="#00aa00" points="405.7,467.9 407.1,467.9 407.1,472.1 405.7,472.1"/>
<polygon fill="#00aa00" points="410.7,466.4 413.6,466.4 413.6,471.4 410.7,471.4"/>
<polygon fill="#00aa00" points="419.3,472.1 420.7,472.1 420.7,475.7 419.3,475.7"/>
<polygon fill="#00aa00" points="431.1,435.0 432.1,435.0 432.1,437.9 431.1,437.9"/>
<polygon fill="#00aa00" points="429.3,455.0 430.0,455.0 430.0,457.1 429.3,457.1"/>
<polygon fill="#00aa00" points="424.3,462.9 425.7,462.9 425.7,465.7 424.3,465.7"/>
<line x1="418.1" y1="451.4" x2="416.0" y2="462.1" stroke="#00aa00" stroke-width="2.8" stroke-linecap="round"/>
<polygon fill="#00a8af" points="429.3,412.9 430.7,412.9 430.7,415.7 429.3,415.7"/>
<line x1="413.6" y1="405.4" x2="417.9" y2="405.4" stroke="#f0ea00" stroke-width="1.9" stroke-linecap="round"/>
<line x1="461.4" y1="405.7" x2="467.1" y2="405.7" stroke="#f0ea00" stroke-width="2.5" stroke-linecap="round"/>
<polygon fill="#00a8af" points="364.3,460.0 370.0,460.0 370.0,469.3 365.0,467.9"/>
<polygon fill="#00a8af" points="355.0,470.7 360.0,470.0 360.0,479.3 355.0,478.6"/>
<polygon fill="#00df00" points="355.7,456.4 361.4,456.4 361.4,462.1 356.4,461.4"/>
<line x1="380.7" y1="510.0" x2="386.0" y2="517.1" stroke="#f0ea00" stroke-width="4.7" stroke-linecap="round"/>
<line x1="380.7" y1="510.0" x2="386.0" y2="517.1" stroke="#ffa900" stroke-width="3.2" stroke-linecap="round"/>
<line x1="390.7" y1="517.9" x2="395.4" y2="524.3" stroke="#d8f500" stroke-width="4.7" stroke-linecap="round"/>
<line x1="390.7" y1="517.9" x2="395.4" y2="524.3" stroke="#f9d700" stroke-width="3.2" stroke-linecap="round"/>
<line x1="395.0" y1="527.1" x2="400.0" y2="533.6" stroke="#67ff00" stroke-width="4.7" stroke-linecap="round"/>
<line x1="395.0" y1="527.1" x2="400.0" y2="533.6" stroke="#c0fd00" stroke-width="3.2" stroke-linecap="round"/>
<line x1="376.4" y1="525.0" x2="380.3" y2="530.7" stroke="#f0ea00" stroke-width="4.4" stroke-linecap="round"/>
<line x1="376.4" y1="525.0" x2="380.3" y2="530.7" stroke="#ffc500" stroke-width="3.0" stroke-linecap="round"/>
<line x1="396.4" y1="505.4" x2="402.1" y2="509.3" stroke="#67ff00" stroke-width="4.7" stroke-linecap="round"/>
<line x1="396.4" y1="505.4" x2="402.1" y2="509.3" stroke="#c0fd00" stroke-width="3.2" stroke-linecap="round"/>
<line x1="408.6" y1="505.4" x2="413.6" y2="506.4" stroke="#f0ea00" stroke-width="2.5" stroke-linecap="round"/>
<line x1="356.9" y1="540.4" x2="363.6" y2="547.1" stroke="#ffc500" stroke-width="6.4" stroke-linecap="round"/>
<line x1="356.9" y1="540.4" x2="363.6" y2="547.1" stroke="#ff8100" stroke-width="5.0" stroke-linecap="round"/>
<line x1="362.1" y1="554.3" x2="369.3" y2="564.3" stroke="#d8f500" stroke-width="5.2" stroke-linecap="round"/>
<line x1="362.1" y1="554.3" x2="369.3" y2="564.3" stroke="#f9d700" stroke-width="3.8" stroke-linecap="round"/>
<line x1="382.9" y1="564.3" x2="387.4" y2="571.4" stroke="#ffc500" stroke-width="5.2" stroke-linecap="round"/>
<line x1="382.9" y1="564.3" x2="387.4" y2="571.4" stroke="#ff2d00" stroke-width="3.8" stroke-linecap="round"/>
<line x1="377.1" y1="570.0" x2="381.1" y2="578.6" stroke="#f9d700" stroke-width="4.7" stroke-linecap="round"/>
<line x1="377.1" y1="570.0" x2="381.1" y2="578.6" stroke="#ffa900" stroke-width="3.2" stroke-linecap="round"/>
<line x1="385.7" y1="572.9" x2="388.9" y2="579.3" stroke="#c0fd00" stroke-width="4.2" stroke-linecap="round"/>
<line x1="385.7" y1="572.9" x2="388.9" y2="579.3" stroke="#f0ea00" stroke-width="2.8" stroke-linecap="round"/>
<line x1="374.3" y1="582.1" x2="378.0" y2="591.4" stroke="#f9d700" stroke-width="4.4" stroke-linecap="round"/>
<line x1="374.3" y1="582.1" x2="378.0" y2="591.4" stroke="#ffa900" stroke-width="3.0" stroke-linecap="round"/>
<line x1="359.3" y1="560.0" x2="365.0" y2="584.3" stroke="#f0ea00" stroke-width="5.2" stroke-linecap="round"/>
<line x1="359.3" y1="560.0" x2="365.0" y2="584.3" stroke="#ffa900" stroke-width="3.8" stroke-linecap="round"/>
<line x1="334.9" y1="595.0" x2="338.3" y2="605.0" stroke="#f0ea00" stroke-width="3.6" stroke-linecap="round"/>
<line x1="334.9" y1="595.0" x2="338.3" y2="605.0" stroke="#ffa900" stroke-width="2.2" stroke-linecap="round"/>
<line x1="395.0" y1="557.1" x2="400.0" y2="565.7" stroke="#c0fd00" stroke-width="4.7" stroke-linecap="round"/>
<line x1="395.0" y1="557.1" x2="400.0" y2="565.7" stroke="#f0ea00" stroke-width="3.2" stroke-linecap="round"/>
<line x1="403.1" y1="552.4" x2="410.7" y2="563.6" stroke="#f9d700" stroke-width="5.4" stroke-linecap="round"/>
<line x1="403.1" y1="552.4" x2="410.7" y2="563.6" stroke="#f90000" stroke-width="4.0" stroke-linecap="round"/>
<line x1="410.7" y1="547.9" x2="416.6" y2="555.0" stroke="#f9d700" stroke-width="4.9" stroke-linecap="round"/>
<line x1="410.7" y1="547.9" x2="416.6" y2="555.0" stroke="#ffa900" stroke-width="3.5" stroke-linecap="round"/>
<line x1="409.4" y1="574.4" x2="413.7" y2="582.1" stroke="#ffa900" stroke-width="4.7" stroke-linecap="round"/>
<line x1="409.4" y1="574.4" x2="413.7" y2="582.1" stroke="#f90000" stroke-width="3.2" stroke-linecap="round"/>
<line x1="413.7" y1="572.1" x2="418.6" y2="580.0" stroke="#ffa900" stroke-width="4.7" stroke-linecap="round"/>
<line x1="413.7" y1="572.1" x2="418.6" y2="580.0" stroke="#f90000" stroke-width="3.2" stroke-linecap="round"/>
<line x1="418.0" y1="560.7" x2="423.7" y2="568.6" stroke="#ffa900" stroke-width="5.2" stroke-linecap="round"/>
<line x1="418.0" y1="560.7" x2="423.7" y2="568.6" stroke="#f90000" stroke-width="3.8" stroke-linecap="round"/>
<line x1="420.9" y1="557.1" x2="426.6" y2="564.3" stroke="#f0ea00" stroke-width="4.7" stroke-linecap="round"/>
<line x1="420.9" y1="557.1" x2="426.6" y2="564.3" stroke="#ffc500" stroke-width="3.2" stroke-linecap="round"/>
<line x1="423.7" y1="552.1" x2="430.0" y2="560.7" stroke="#ffa900" stroke-width="5.4" stroke-linecap="round"/>
<line x1="423.7" y1="552.1" x2="430.0" y2="560.7" stroke="#f90000" stroke-width="4.0" stroke-linecap="round"/>
<line x1="427.1" y1="547.9" x2="433.7" y2="555.0" stroke="#ffa900" stroke-width="5.4" stroke-linecap="round"/>
<line x1="427.1" y1="547.9" x2="433.7" y2="555.0" stroke="#f90000" stroke-width="4.0" stroke-linecap="round"/>
<line x1="430.9" y1="543.6" x2="436.6" y2="550.7" stroke="#ffa900" stroke-width="5.4" stroke-linecap="round"/>
<line x1="430.9" y1="543.6" x2="436.6" y2="550.7" stroke="#f90000" stroke-width="4.0" stroke-linecap="round"/>
<line x1="432.6" y1="528.1" x2="438.0" y2="535.7" stroke="#ffa900" stroke-width="6.4" stroke-linecap="round"/>
<line x1="432.6" y1="528.1" x2="438.0" y2="535.7" stroke="#f90000" stroke-width="5.0" stroke-linecap="round"/>
<line x1="436.4" y1="536.4" x2="441.4" y2="543.6" stroke="#ffa900" stroke-width="5.4" stroke-linecap="round"/>
<line x1="436.4" y1="536.4" x2="441.4" y2="543.6" stroke="#f90000" stroke-width="4.0" stroke-linecap="round"/>
<line x1="439.4" y1="517.1" x2="445.1" y2="522.9" stroke="#ffa900" stroke-width="5.2" stroke-linecap="round"/>
<line x1="439.4" y1="517.1" x2="445.1" y2="522.9" stroke="#f90000" stroke-width="3.8" stroke-linecap="round"/>
<line x1="442.3" y1="512.9" x2="448.6" y2="518.6" stroke="#ffa900" stroke-width="5.2" stroke-linecap="round"/>
<line x1="442.3" y1="512.9" x2="448.6" y2="518.6" stroke="#f90000" stroke-width="3.8" stroke-linecap="round"/>
<line x1="452.9" y1="514.3" x2="460.7" y2="522.1" stroke="#ff8100" stroke-width="5.2" stroke-linecap="round"/>
<line x1="452.9" y1="514.3" x2="460.7" y2="522.1" stroke="#f90000" stroke-width="3.8" stroke-linecap="round"/>
<line x1="410.3" y1="536.1" x2="406.9" y2="543.9" stroke="#00aa00" stroke-width="3.2" stroke-linecap="round"/>
<polygon fill="#00aa00" points="402.9,545.0 405.0,545.0 405.0,547.9 402.9,547.9"/>
<polygon fill="#00aa00" points="399.3,552.9 401.1,552.9 401.1,556.4 399.3,556.4"/>
<polygon fill="#00aa00" points="371.4,547.1 374.0,547.1 374.0,550.7 371.4,550.7"/>
<polygon fill="#00aa00" points="417.1,515.0 418.9,515.0 418.9,517.6 417.1,517.6"/>
<polygon fill="#00aa00" points="419.0,522.1 420.9,522.1 420.9,524.7 419.0,524.7"/>
<polygon fill="#00aa00" points="415.0,528.3 416.9,528.3 416.9,531.4 415.0,531.4"/>
<polygon fill="#00aa00" points="412.1,531.4 413.1,531.4 413.1,533.6 412.1,533.6"/>
<polygon fill="#00aa00" points="390.0,537.1 390.9,537.1 390.9,540.0 390.0,540.0"/>
<polygon fill="#00aa00" points="392.9,542.1 394.0,542.1 394.0,544.7 392.9,544.7"/>
<polygon fill="#00aa00" points="423.1,505.0 424.0,505.0 424.0,506.7 423.1,506.7"/>
<polygon fill="#00a8af" points="382.9,542.1 383.7,542.1 383.7,544.7 382.9,544.7"/>
<polygon fill="#00a8af" points="374.0,555.0 374.7,555.0 374.7,560.0 374.0,560.0"/>
<polygon fill="#00ef00" points="212.1,505.0 214.3,505.0 214.3,512.1 212.1,512.1"/>
<polygon fill="#67ff00" points="223.6,510.7 227.9,510.7 227.9,517.9 223.6,517.9"/>
<polygon fill="#00ef00" points="224.3,519.3 226.4,519.3 226.4,526.4 224.3,526.4"/>
<polygon fill="#c0fd00" points="230.0,519.3 233.6,519.3 233.6,527.9 230.0,527.9"/>
<polygon fill="#00ef00" points="229.3,534.3 234.3,534.3 234.3,541.4 229.3,541.4"/>
<polygon fill="#67ff00" points="237.9,532.9 240.7,532.9 240.7,540.7 237.9,540.7"/>
<polygon fill="#00ef00" points="242.9,531.4 245.7,531.4 245.7,540.0 242.9,540.0"/>
<polygon fill="#00ef00" points="264.3,585.0 266.9,585.0 266.9,595.0 264.3,595.0"/>
<polygon fill="#0067dd" points="224.0,564.3 224.9,564.3 224.9,569.3 224.0,569.3"/>
<polygon fill="#00ef00" points="250.0,562.1 255.0,556.4 256.4,567.9 253.6,573.6 255.0,588.6 250.7,588.6 249.3,576.4 247.9,569.3"/>
<polygon fill="#f9d700" points="250.7,563.6 254.3,559.3 255.0,567.9 252.6,573.6 253.9,587.1 251.7,587.1 250.7,576.4 249.3,569.3"/>
<line x1="258.6" y1="560.7" x2="259.3" y2="583.6" stroke="#00df00" stroke-width="3.1" stroke-linecap="round"/>
<polygon fill="#00a8af" points="256.4,573.6 258.3,573.6 258.3,582.1 256.4,582.1"/>
<polygon fill="#0fff00" points="257.1,590.7 263.6,591.4 263.6,605.0 257.1,605.0"/>
<polygon fill="#ffc500" points="258.1,592.9 262.6,593.6 262.6,605.0 258.1,605.0"/>
<polygon fill="#ff2d00" points="258.9,597.9 261.4,597.9 261.4,603.9 258.9,603.9"/>
<polygon fill="#00df00" points="248.6,137.9 250.7,137.9 250.7,147.9 248.6,147.9"/>
<polygon fill="#00bc00" points="252.1,140.7 255.0,140.7 255.0,145.7 252.1,145.7"/>
<polygon fill="#00df00" points="208.6,182.9 211.7,182.9 211.7,189.3 208.6,189.3"/>
<polygon fill="#d8f500" points="201.4,201.4 203.6,201.4 203.6,205.0 201.4,205.0"/>
<polygon fill="#d8f500" points="207.9,199.3 210.0,199.3 210.0,205.0 207.9,205.0"/>
<polygon fill="#0000d5" points="214.3,200.7 218.6,200.7 218.6,205.0 214.3,205.0"/>
<polygon fill="#0fff00" points="264.3,127.9 271.4,125.0 278.6,121.9 284.3,122.9 283.7,138.6 275.7,140.0 264.3,139.3 262.1,133.6"/>
<polygon fill="#0fff00" points="230.0,172.1 235.7,165.0 242.9,163.6 244.3,168.6 238.6,172.1 234.3,176.4"/>
<polygon fill="#0fff00" points="214.3,189.3 218.6,180.7 227.1,176.4 230.0,180.0 222.9,185.0 217.9,192.1"/>
<line x1="262.9" y1="139.3" x2="263.6" y2="130.7" stroke="#00ef00" stroke-width="4.0" stroke-linecap="round"/>
<line x1="262.9" y1="139.3" x2="263.6" y2="130.7" stroke="#c0fd00" stroke-width="3.0" stroke-linecap="round"/>
<line x1="262.9" y1="139.3" x2="263.6" y2="130.7" stroke="#f0ea00" stroke-width="1.6" stroke-linecap="round"/>
<line x1="267.1" y1="137.9" x2="268.6" y2="126.4" stroke="#00ef00" stroke-width="4.0" stroke-linecap="round"/>
<line x1="267.1" y1="137.9" x2="268.6" y2="126.4" stroke="#c0fd00" stroke-width="3.0" stroke-linecap="round"/>
<line x1="267.1" y1="137.9" x2="268.6" y2="126.4" stroke="#f0ea00" stroke-width="1.6" stroke-linecap="round"/>
<line x1="274.3" y1="133.6" x2="275.0" y2="125.0" stroke="#00ef00" stroke-width="4.0" stroke-linecap="round"/>
<line x1="274.3" y1="133.6" x2="275.0" y2="125.0" stroke="#c0fd00" stroke-width="3.0" stroke-linecap="round"/>
<line x1="274.3" y1="133.6" x2="275.0" y2="125.0" stroke="#f0ea00" stroke-width="1.6" stroke-linecap="round"/>
<line x1="277.1" y1="134.3" x2="277.9" y2="126.4" stroke="#00ef00" stroke-width="4.0" stroke-linecap="round"/>
<line x1="277.1" y1="134.3" x2="277.9" y2="126.4" stroke="#c0fd00" stroke-width="3.0" stroke-linecap="round"/>
<line x1="277.1" y1="134.3" x2="277.9" y2="126.4" stroke="#f0ea00" stroke-width="1.6" stroke-linecap="round"/>
<line x1="280.7" y1="127.9" x2="281.4" y2="120.7" stroke="#00ef00" stroke-width="4.0" stroke-linecap="round"/>
<line x1="280.7" y1="127.9" x2="281.4" y2="120.7" stroke="#c0fd00" stroke-width="3.0" stroke-linecap="round"/>
<line x1="280.7" y1="127.9" x2="281.4" y2="120.7" stroke="#f0ea00" stroke-width="1.6" stroke-linecap="round"/>
<line x1="260.0" y1="160.7" x2="260.7" y2="152.1" stroke="#00ef00" stroke-width="4.0" stroke-linecap="round"/>
<line x1="260.0" y1="160.7" x2="260.7" y2="152.1" stroke="#c0fd00" stroke-width="3.0" stroke-linecap="round"/>
<line x1="260.0" y1="160.7" x2="260.7" y2="152.1" stroke="#f0ea00" stroke-width="1.6" stroke-linecap="round"/>
<line x1="264.3" y1="162.1" x2="265.0" y2="156.4" stroke="#00ef00" stroke-width="4.0" stroke-linecap="round"/>
<line x1="264.3" y1="162.1" x2="265.0" y2="156.4" stroke="#c0fd00" stroke-width="3.0" stroke-linecap="round"/>
<line x1="264.3" y1="162.1" x2="265.0" y2="156.4" stroke="#f0ea00" stroke-width="1.6" stroke-linecap="round"/>
<line x1="268.6" y1="157.9" x2="269.3" y2="150.7" stroke="#00ef00" stroke-width="4.0" stroke-linecap="round"/>
<line x1="268.6" y1="157.9" x2="269.3" y2="150.7" stroke="#c0fd00" stroke-width="3.0" stroke-linecap="round"/>
<line x1="268.6" y1="157.9" x2="269.3" y2="150.7" stroke="#f0ea00" stroke-width="1.6" stroke-linecap="round"/>
<line x1="282.9" y1="146.4" x2="284.3" y2="140.7" stroke="#00ef00" stroke-width="4.0" stroke-linecap="round"/>
<line x1="282.9" y1="146.4" x2="284.3" y2="140.7" stroke="#c0fd00" stroke-width="3.0" stroke-linecap="round"/>
<line x1="282.9" y1="146.4" x2="284.3" y2="140.7" stroke="#f0ea00" stroke-width="1.6" stroke-linecap="round"/>
<line x1="231.4" y1="170.7" x2="232.9" y2="165.0" stroke="#00ef00" stroke-width="4.0" stroke-linecap="round"/>
<line x1="231.4" y1="170.7" x2="232.9" y2="165.0" stroke="#c0fd00" stroke-width="3.0" stroke-linecap="round"/>
<line x1="231.4" y1="170.7" x2="232.9" y2="165.0" stroke="#f0ea00" stroke-width="1.6" stroke-linecap="round"/>
<line x1="235.7" y1="169.3" x2="236.4" y2="164.3" stroke="#00ef00" stroke-width="4.0" stroke-linecap="round"/>
<line x1="235.7" y1="169.3" x2="236.4" y2="164.3" stroke="#c0fd00" stroke-width="3.0" stroke-linecap="round"/>
<line x1="235.7" y1="169.3" x2="236.4" y2="164.3" stroke="#f0ea00" stroke-width="1.6" stroke-linecap="round"/>
<line x1="242.1" y1="167.9" x2="242.6" y2="162.9" stroke="#00ef00" stroke-width="4.0" stroke-linecap="round"/>
<line x1="242.1" y1="167.9" x2="242.6" y2="162.9" stroke="#c0fd00" stroke-width="3.0" stroke-linecap="round"/>
<line x1="242.1" y1="167.9" x2="242.6" y2="162.9" stroke="#f0ea00" stroke-width="1.6" stroke-linecap="round"/>
<line x1="217.1" y1="185.0" x2="218.6" y2="179.3" stroke="#00ef00" stroke-width="4.0" stroke-linecap="round"/>
<line x1="217.1" y1="185.0" x2="218.6" y2="179.3" stroke="#c0fd00" stroke-width="3.0" stroke-linecap="round"/>
<line x1="217.1" y1="185.0" x2="218.6" y2="179.3" stroke="#f0ea00" stroke-width="1.6" stroke-linecap="round"/>
<line x1="222.9" y1="182.1" x2="223.6" y2="175.7" stroke="#00ef00" stroke-width="4.0" stroke-linecap="round"/>
<line x1="222.9" y1="182.1" x2="223.6" y2="175.7" stroke="#c0fd00" stroke-width="3.0" stroke-linecap="round"/>
<line x1="222.9" y1="182.1" x2="223.6" y2="175.7" stroke="#f0ea00" stroke-width="1.6" stroke-linecap="round"/>
<line x1="227.1" y1="179.3" x2="227.9" y2="172.9" stroke="#00ef00" stroke-width="4.0" stroke-linecap="round"/>
<line x1="227.1" y1="179.3" x2="227.9" y2="172.9" stroke="#c0fd00" stroke-width="3.0" stroke-linecap="round"/>
<line x1="227.1" y1="179.3" x2="227.9" y2="172.9" stroke="#f0ea00" stroke-width="1.6" stroke-linecap="round"/>
<line x1="221.4" y1="190.7" x2="222.9" y2="185.0" stroke="#00ef00" stroke-width="4.0" stroke-linecap="round"/>
<line x1="221.4" y1="190.7" x2="222.9" y2="185.0" stroke="#c0fd00" stroke-width="3.0" stroke-linecap="round"/>
<line x1="221.4" y1="190.7" x2="222.9" y2="185.0" stroke="#f0ea00" stroke-width="1.6" stroke-linecap="round"/>
<line x1="217.1" y1="196.4" x2="218.6" y2="190.7" stroke="#00ef00" stroke-width="4.0" stroke-linecap="round"/>
<line x1="217.1" y1="196.4" x2="218.6" y2="190.7" stroke="#c0fd00" stroke-width="3.0" stroke-linecap="round"/>
<line x1="217.1" y1="196.4" x2="218.6" y2="190.7" stroke="#f0ea00" stroke-width="1.6" stroke-linecap="round"/>
<line x1="232.9" y1="176.4" x2="234.3" y2="172.1" stroke="#00ef00" stroke-width="4.0" stroke-linecap="round"/>
<line x1="232.9" y1="176.4" x2="234.3" y2="172.1" stroke="#c0fd00" stroke-width="3.0" stroke-linecap="round"/>
<line x1="232.9" y1="176.4" x2="234.3" y2="172.1" stroke="#f0ea00" stroke-width="1.6" stroke-linecap="round"/>
<line x1="250.0" y1="166.4" x2="251.4" y2="159.3" stroke="#00df00" stroke-width="3.6" stroke-linecap="round"/>
<line x1="250.0" y1="166.4" x2="251.4" y2="159.3" stroke="#0fff00" stroke-width="2.2" stroke-linecap="round"/>
<line x1="252.9" y1="172.1" x2="253.1" y2="167.9" stroke="#00df00" stroke-width="3.6" stroke-linecap="round"/>
<line x1="252.9" y1="172.1" x2="253.1" y2="167.9" stroke="#0fff00" stroke-width="2.2" stroke-linecap="round"/>
<line x1="244.3" y1="176.4" x2="245.4" y2="172.1" stroke="#00df00" stroke-width="3.6" stroke-linecap="round"/>
<line x1="244.3" y1="176.4" x2="245.4" y2="172.1" stroke="#0fff00" stroke-width="2.2" stroke-linecap="round"/>
<line x1="238.6" y1="179.3" x2="239.7" y2="175.0" stroke="#00df00" stroke-width="3.6" stroke-linecap="round"/>
<line x1="238.6" y1="179.3" x2="239.7" y2="175.0" stroke="#0fff00" stroke-width="2.2" stroke-linecap="round"/>
<line x1="272.9" y1="147.9" x2="275.7" y2="142.1" stroke="#00a8af" stroke-width="2.8" stroke-linecap="round"/>
<line x1="278.6" y1="146.4" x2="279.3" y2="142.1" stroke="#00a8af" stroke-width="2.2" stroke-linecap="round"/>
<line x1="263.6" y1="154.7" x2="266.0" y2="153.6" stroke="#00a8af" stroke-width="1.9" stroke-linecap="round"/>
<line x1="250.0" y1="160.0" x2="252.9" y2="158.1" stroke="#0067dd" stroke-width="2.0" stroke-linecap="round"/>
<line x1="269.3" y1="149.3" x2="271.4" y2="146.4" stroke="#0067dd" stroke-width="2.0" stroke-linecap="round"/>
<polygon fill="#00df00" points="200.0,460.0 203.6,460.0 203.6,466.4 200.0,466.4"/>
<polygon fill="#00df00" points="206.4,461.4 209.3,461.4 209.3,468.6 206.4,468.6"/>
<polygon fill="#00df00" points="211.4,471.4 213.6,471.4 213.6,477.9 211.4,477.9"/>
<polygon fill="#63009e" points="204.3,455.7 207.9,455.7 207.9,461.4 204.3,461.4"/>
<polygon fill="#00df00" points="220.7,493.6 222.9,493.6 222.9,499.3 220.7,499.3"/>
<polygon fill="#63009e" points="217.1,489.3 218.6,489.3 218.6,492.1 217.1,492.1"/>
<line x1="346.5" y1="199.6" x2="352.0" y2="188.7" stroke="#f0ea00" stroke-width="4.2" stroke-linecap="round"/>
<line x1="346.5" y1="199.6" x2="352.0" y2="188.7" stroke="#ffa900" stroke-width="2.8" stroke-linecap="round"/>
<line x1="356.0" y1="210.4" x2="362.8" y2="196.8" stroke="#f0ea00" stroke-width="4.4" stroke-linecap="round"/>
<line x1="356.0" y1="210.4" x2="362.8" y2="196.8" stroke="#ffa900" stroke-width="3.0" stroke-linecap="round"/>
<line x1="365.5" y1="215.8" x2="373.7" y2="202.3" stroke="#f9d700" stroke-width="4.4" stroke-linecap="round"/>
<line x1="365.5" y1="215.8" x2="373.7" y2="202.3" stroke="#ff8100" stroke-width="3.0" stroke-linecap="round"/>
<line x1="373.7" y1="224.0" x2="384.5" y2="210.4" stroke="#ffc500" stroke-width="4.7" stroke-linecap="round"/>
<line x1="373.7" y1="224.0" x2="384.5" y2="210.4" stroke="#ff2d00" stroke-width="3.2" stroke-linecap="round"/>
<line x1="387.2" y1="229.4" x2="400.0" y2="215.8" stroke="#ffa900" stroke-width="5.2" stroke-linecap="round"/>
<line x1="387.2" y1="229.4" x2="400.0" y2="215.8" stroke="#f90000" stroke-width="3.8" stroke-linecap="round"/>
<line x1="362.8" y1="180.6" x2="366.9" y2="172.4" stroke="#f0ea00" stroke-width="3.9" stroke-linecap="round"/>
<line x1="362.8" y1="180.6" x2="366.9" y2="172.4" stroke="#ffa900" stroke-width="2.5" stroke-linecap="round"/>
<line x1="352.0" y1="177.8" x2="354.7" y2="169.7" stroke="#c0fd00" stroke-width="3.6" stroke-linecap="round"/>
<line x1="352.0" y1="177.8" x2="354.7" y2="169.7" stroke="#f0ea00" stroke-width="2.2" stroke-linecap="round"/>
<line x1="376.4" y1="191.4" x2="381.8" y2="181.9" stroke="#f0ea00" stroke-width="3.9" stroke-linecap="round"/>
<line x1="376.4" y1="191.4" x2="381.8" y2="181.9" stroke="#ffa900" stroke-width="2.5" stroke-linecap="round"/>
<ellipse cx="389" cy="195" rx="4" ry="5" fill="#67ff00" transform="rotate(35 389 195)"/>
<ellipse cx="389" cy="195" rx="3" ry="4" fill="#ffa900" transform="rotate(35 389 195)"/>
<ellipse cx="363" cy="183" rx="2.2" ry="6.5" fill="#67ff00"/>
<ellipse cx="363" cy="183" rx="1.4" ry="5.5" fill="#ff8100"/>
</g>
</g>
<g shape-rendering="crispEdges">
<rect x="941.5" y="609.58" width="26.0" height="14.32" fill="#1c0020"/>
<rect x="941.5" y="595.76" width="26.0" height="14.32" fill="#540060"/>
<rect x="941.5" y="581.95" width="26.0" height="14.32" fill="#7b008c"/>
<rect x="941.5" y="568.13" width="26.0" height="14.32" fill="#830094"/>
<rect x="941.5" y="554.31" width="26.0" height="14.32" fill="#63009e"/>
<rect x="941.5" y="540.49" width="26.0" height="14.32" fill="#1800a7"/>
<rect x="941.5" y="526.67" width="26.0" height="14.32" fill="#0000b9"/>
<rect x="941.5" y="512.86" width="26.0" height="14.32" fill="#0000d5"/>
<rect x="941.5" y="499.04" width="26.0" height="14.32" fill="#0025dd"/>
<rect x="941.5" y="485.22" width="26.0" height="14.32" fill="#0067dd"/>
<rect x="941.5" y="471.40" width="26.0" height="14.32" fill="#0082dd"/>
<rect x="941.5" y="457.58" width="26.0" height="14.32" fill="#0095dd"/>
<rect x="941.5" y="443.77" width="26.0" height="14.32" fill="#00a0c7"/>
<rect x="941.5" y="429.95" width="26.0" height="14.32" fill="#00a8af"/>
<rect x="941.5" y="416.13" width="26.0" height="14.32" fill="#00aa9b"/>
<rect x="941.5" y="402.31" width="26.0" height="14.32" fill="#00aa8b"/>
<rect x="941.5" y="388.49" width="26.0" height="14.32" fill="#00a248"/>
<rect x="941.5" y="374.68" width="26.0" height="14.32" fill="#009a08"/>
<rect x="941.5" y="360.86" width="26.0" height="14.32" fill="#00aa00"/>
<rect x="941.5" y="347.04" width="26.0" height="14.32" fill="#00bc00"/>
<rect x="941.5" y="333.22" width="26.0" height="14.32" fill="#00cc00"/>
<rect x="941.5" y="319.41" width="26.0" height="14.32" fill="#00df00"/>
<rect x="941.5" y="305.59" width="26.0" height="14.32" fill="#00ef00"/>
<rect x="941.5" y="291.77" width="26.0" height="14.32" fill="#0fff00"/>
<rect x="941.5" y="277.95" width="26.0" height="14.32" fill="#67ff00"/>
<rect x="941.5" y="264.13" width="26.0" height="14.32" fill="#c0fd00"/>
<rect x="941.5" y="250.32" width="26.0" height="14.32" fill="#d8f500"/>
<rect x="941.5" y="236.50" width="26.0" height="14.32" fill="#f0ea00"/>
<rect x="941.5" y="222.68" width="26.0" height="14.32" fill="#f9d700"/>
<rect x="941.5" y="208.86" width="26.0" height="14.32" fill="#ffc500"/>
<rect x="941.5" y="195.04" width="26.0" height="14.32" fill="#ffa900"/>
<rect x="941.5" y="181.23" width="26.0" height="14.32" fill="#ff8100"/>
<rect x="941.5" y="167.41" width="26.0" height="14.32" fill="#ff2d00"/>
<rect x="941.5" y="153.59" width="26.0" height="14.32" fill="#f90000"/>
<rect x="941.5" y="139.77" width="26.0" height="14.32" fill="#e60000"/>
<rect x="941.5" y="125.95" width="26.0" height="14.32" fill="#d80000"/>
<rect x="941.5" y="112.14" width="26.0" height="14.32" fill="#d00000"/>
<rect x="941.5" y="98.32" width="26.0" height="14.32" fill="#cc3c3c"/>
<rect x="941.5" y="84.50" width="26.0" height="14.32" fill="#cc9c9c"/>
</g>
<rect x="941.5" y="84.5" width="26.0" height="538.9" fill="none" stroke="#000" stroke-width="1.1"/>
<rect x="150.5" y="84.5" width="744.0" height="538.9" fill="none" stroke="#000" stroke-width="1.1"/>
<path d="M212.5 623.4v5 M336.5 623.4v5 M460.5 623.4v5 M584.5 623.4v5 M708.5 623.4v5 M832.5 623.4v5 M150.5 578.6h-5 M150.5 466.3h-5 M150.5 354.0h-5 M150.5 241.7h-5 M150.5 129.4h-5 M967.5 623.4h5 M967.5 467.6h5 M967.5 311.8h5 M967.5 156.0h5" stroke="#000" stroke-width="1.1" fill="none"/>
</svg>
<div class="t mono" id="title" style="left:303px;top:54px;">Ion_ekbar at 220.099202 fs</div>
<div class="t sans xt" style="left:213px;top:630px;">0</div>
<div class="t sans xt" style="left:337px;top:630px;">10</div>
<div class="t sans xt" style="left:461px;top:630px;">20</div>
<div class="t sans xt" style="left:585px;top:630px;">30</div>
<div class="t sans xt" style="left:709px;top:630px;">40</div>
<div class="t sans xt" style="left:833px;top:630px;">50</div>
<div class="t sans yt" style="top:129px;">10</div>
<div class="t sans yt" style="top:241px;">5</div>
<div class="t sans yt" style="top:354px;">0</div>
<div class="t sans yt" style="top:466px;">&#8722;5</div>
<div class="t sans yt" style="top:578px;">&#8722;10</div>
<div class="t mono" id="xlabel" style="left:468.5px;top:665px;">X [<i class="sans">&mu;m</i>]</div>
<div class="t mono" id="ylabel" style="left:57px;top:352.5px;">Z [<i class="sans">&mu;m</i>]</div>
<div class="t mono" id="clabel" style="left:1048.5px;top:358px;">Ion_ekbar[MeV]</div>
<div class="t sans ct" style="top:156.6px;">10<sup>2</sup></div>
<div class="t sans ct" style="top:312.6px;">10<sup>1</sup></div>
<div class="t sans ct" style="top:468.6px;">10<sup>0</sup></div>
<div class="t sans ct" style="top:624.4px;">10<sup>&#8722;1</sup></div>

</body></html>
